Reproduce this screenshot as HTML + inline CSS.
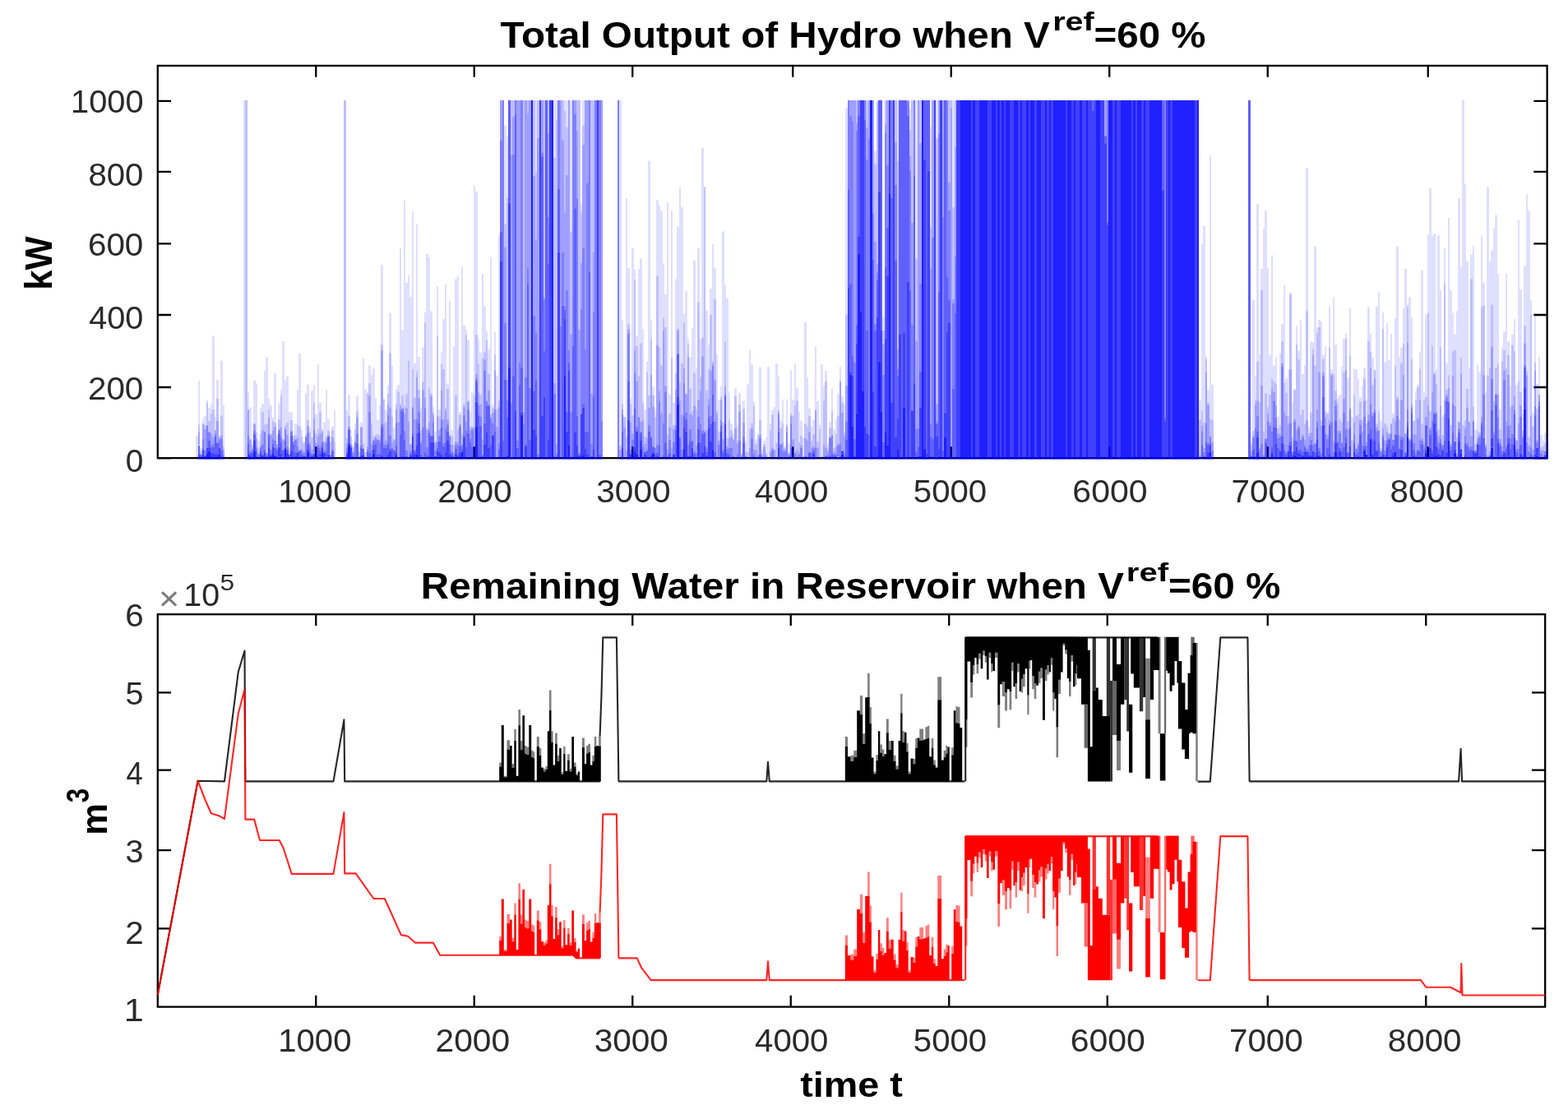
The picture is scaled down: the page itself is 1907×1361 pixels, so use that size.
<!DOCTYPE html>
<html><head><meta charset="utf-8"><title>Hydro</title>
<style>
html,body{margin:0;padding:0;background:#fff;overflow:hidden;}
svg{display:block;font-family:"Liberation Sans",sans-serif;}
.tk{fill:#2a2a2a;}
.tt{font-weight:bold;fill:#000;}
.ax{stroke:#000;stroke-width:2.3;fill:none;}
</style></head>
<body>
<svg width="1907" height="1361" viewBox="0 0 1907 1361">
<rect width="1907" height="1361" fill="#fff"/>
<rect class="ax" x="191.8" y="79.9" width="1689.80" height="477.20"/>
<path class="ax" d="M384.25 557.1v-13.75M384.25 79.9v13.75M576.75 557.1v-13.75M576.75 79.9v13.75M769.25 557.1v-13.75M769.25 79.9v13.75M964.25 557.1v-13.75M964.25 79.9v13.75M1156.75 557.1v-13.75M1156.75 79.9v13.75M1349.25 557.1v-13.75M1349.25 79.9v13.75M1541.75 557.1v-13.75M1541.75 79.9v13.75M1736.75 557.1v-13.75M1736.75 79.9v13.75M191.8 557.10h16.25M1881.6 557.10h-16.25M191.8 471.00h16.25M1881.6 471.00h-16.25M191.8 383.00h16.25M1881.6 383.00h-16.25M191.8 296.40h16.25M1881.6 296.40h-16.25M191.8 208.80h16.25M1881.6 208.80h-16.25M191.8 122.80h16.25M1881.6 122.80h-16.25"/>
<rect class="ax" x="191.8" y="747.2" width="1687.40" height="477.40"/>
<path class="ax" d="M384.25 1224.6v-13.75M384.25 747.2v13.75M576.75 1224.6v-13.75M576.75 747.2v13.75M769.25 1224.6v-13.75M769.25 747.2v13.75M961.75 1224.6v-13.75M961.75 747.2v13.75M1154.25 1224.6v-13.75M1154.25 747.2v13.75M1346.75 1224.6v-13.75M1346.75 747.2v13.75M1541.75 1224.6v-13.75M1541.75 747.2v13.75M1734.25 1224.6v-13.75M1734.25 747.2v13.75M191.8 1129.30h16.25M1879.2 1129.30h-16.25M191.8 1034.10h16.25M1879.2 1034.10h-16.25M191.8 936.60h16.25M1879.2 936.60h-16.25M191.8 842.30h16.25M1879.2 842.30h-16.25"/>
<g id="bars">
<path fill="#00f" fill-opacity="0.125" d="M238 529.9h3V558.4h-3zM241 463.0h2V516.4h-2zM243 544.8h3V548.6h-3zM246 508.7h2V514.9h-2zM248 505.7h3V517.1h-3zM251 485.9h2V490.0h-2zM253 495.8h3V512.2h-3zM256 491.6h2V503.3h-2zM258 408.5h3V497.9h-3zM261 506.9h2V522.7h-2zM263 461.9h3V485.1h-3zM266 529.4h2V531.3h-2zM268 438.8h3V505.3h-3zM271 493.1h2V543.1h-2zM296 122.1h2V558.4h-2zM301 477.3h2V498.0h-2zM303 495.5h3V533.4h-3zM306 539.8h2V542.0h-2zM308 462.7h3V514.6h-3zM311 466.3h2V525.9h-2zM313 535.5h3V545.5h-3zM316 495.9h2V527.4h-2zM318 491.1h3V501.3h-3zM321 450.9h2V516.6h-2zM323 434.5h3V515.6h-3zM326 484.7h2V497.7h-2zM328 492.4h3V527.6h-3zM331 508.1h2V512.1h-2zM333 453.7h3V513.9h-3zM336 529.8h2V539.9h-2zM338 490.4h3V510.0h-3zM341 474.2h2V480.8h-2zM343 415.0h3V534.1h-3zM346 463.1h2V517.0h-2zM348 457.4h3V513.8h-3zM351 501.3h2V545.6h-2zM353 501.6h3V511.1h-3zM356 528.3h2V530.4h-2zM358 515.0h3V529.2h-3zM361 474.1h2V517.0h-2zM363 430.1h3V518.2h-3zM366 522.5h2V531.2h-2zM368 537.6h3V538.6h-3zM371 479.1h2V529.2h-2zM373 467.5h3V511.3h-3zM376 520.1h2V525.7h-2zM378 475.2h3V531.7h-3zM381 469.0h2V490.6h-2zM383 503.7h3V527.5h-3zM386 443.2h2V521.8h-2zM388 489.7h3V501.7h-3zM391 522.2h2V522.7h-2zM393 513.7h3V537.0h-3zM396 473.9h2V530.9h-2zM398 509.8h3V523.8h-3zM401 530.2h2V537.7h-2zM403 518.6h3V522.9h-3zM406 498.8h2V536.9h-2zM421 499.6h2V533.0h-2zM423 480.0h3V505.8h-3zM426 522.9h2V531.3h-2zM428 540.4h3V543.9h-3zM431 515.2h2V523.1h-2zM433 481.2h3V500.2h-3zM436 542.1h2V549.1h-2zM438 514.0h3V519.4h-3zM441 435.7h2V539.8h-2zM443 473.5h3V550.1h-3zM446 477.2h2V478.6h-2zM448 444.6h3V466.1h-3zM451 455.8h2V514.8h-2zM453 448.3h3V530.4h-3zM456 484.1h2V529.3h-2zM458 510.6h3V527.9h-3zM461 492.4h2V529.7h-2zM463 322.1h3V419.1h-3zM466 484.4h2V486.5h-2zM468 498.5h3V513.6h-3zM471 468.8h2V479.3h-2zM473 380.7h3V429.5h-3zM476 445.1h2V506.7h-2zM478 519.9h3V533.7h-3zM481 473.6h2V491.3h-2zM483 468.3h3V476.6h-3zM486 302.2h2V491.1h-2zM488 401.3h3V480.8h-3zM491 243.6h2V494.5h-2zM493 344.0h3V479.2h-3zM496 334.7h2V438.8h-2zM498 360.9h3V539.4h-3zM501 257.0h2V449.1h-2zM503 441.9h3V483.8h-3zM506 272.7h2V451.6h-2zM508 434.0h3V473.7h-3zM511 495.2h2V523.7h-2zM513 422.5h3V464.5h-3zM516 379.9h2V392.1h-2zM518 308.7h3V520.4h-3zM521 313.0h2V471.5h-2zM523 378.5h3V478.4h-3zM526 494.3h2V501.4h-2zM528 524.7h3V536.6h-3zM531 348.5h2V409.5h-2zM533 498.0h3V506.6h-3zM536 428.6h2V443.1h-2zM538 388.2h3V449.0h-3zM541 344.7h2V495.9h-2zM543 466.2h3V473.1h-3zM546 365.9h2V528.3h-2zM548 522.7h3V530.6h-3zM551 420.9h2V541.3h-2zM553 339.5h3V480.4h-3zM556 335.6h2V522.3h-2zM558 501.2h3V504.5h-3zM561 324.3h2V527.9h-2zM563 395.6h3V491.5h-3zM566 400.9h2V407.2h-2zM568 414.1h3V487.5h-3zM571 501.1h2V519.5h-2zM573 477.4h3V518.8h-3zM576 225.4h2V481.7h-2zM578 232.8h3V407.0h-3zM581 412.6h2V442.5h-2zM583 428.5h3V480.1h-3zM586 332.9h2V435.8h-2zM588 372.6h3V428.3h-3zM591 403.1h2V413.3h-2zM593 424.7h3V455.1h-3zM596 313.0h2V504.0h-2zM598 492.4h3V496.3h-3zM601 403.7h2V431.3h-2zM603 456.5h3V497.4h-3zM606 286.1h2V486.8h-2zM613 152.7h3V272.7h-3zM616 165.3h2V241.0h-2zM651 122.1h2V210.2h-2zM673 122.1h3V191.9h-3zM676 122.1h2V146.0h-2zM686 122.1h2V134.6h-2zM688 122.1h3V154.6h-3zM693 122.1h3V281.7h-3zM706 247.7h2V258.4h-2zM708 122.1h3V152.5h-3zM753 122.1h3V542.0h-3zM756 388.8h2V491.1h-2zM758 506.5h3V507.5h-3zM761 241.0h2V531.0h-2zM763 326.0h3V394.6h-3zM766 484.9h2V491.8h-2zM768 301.7h3V505.0h-3zM771 327.9h2V339.7h-2zM773 407.9h3V420.9h-3zM776 327.0h2V457.6h-2zM778 314.5h3V417.6h-3zM781 399.9h2V489.7h-2zM783 498.5h3V530.7h-3zM786 440.0h2V452.4h-2zM788 195.4h3V481.0h-3zM791 390.0h2V412.8h-2zM793 470.7h3V480.8h-3zM796 498.1h2V507.2h-2zM798 243.5h3V335.5h-3zM801 249.7h2V422.8h-2zM803 256.6h3V444.2h-3zM806 320.2h2V386.7h-2zM808 358.3h3V398.1h-3zM811 245.9h2V528.0h-2zM813 479.8h3V503.3h-3zM816 256.2h2V435.2h-2zM818 489.9h3V517.0h-3zM821 339.6h2V454.0h-2zM823 275.3h3V400.0h-3zM826 227.5h2V464.9h-2zM828 252.3h3V442.0h-3zM831 381.6h2V392.9h-2zM833 353.8h3V478.2h-3zM836 411.9h2V419.3h-2zM838 434.5h3V472.8h-3zM841 398.7h2V500.1h-2zM843 316.9h3V453.4h-3zM846 447.1h2V497.5h-2zM848 302.0h3V367.6h-3zM851 412.8h2V458.5h-2zM853 179.8h3V410.5h-3zM858 377.8h3V475.0h-3zM861 419.4h2V448.9h-2zM863 351.2h3V382.9h-3zM866 296.5h2V439.6h-2zM868 326.2h3V364.3h-3zM871 430.5h2V499.6h-2zM873 486.9h3V524.5h-3zM876 470.0h2V482.9h-2zM878 281.3h3V514.0h-3zM881 346.5h2V415.7h-2zM883 362.5h3V532.5h-3zM886 476.5h2V510.4h-2zM888 515.3h3V523.4h-3zM891 526.8h2V533.6h-2zM893 472.8h3V481.7h-3zM896 517.3h2V535.7h-2zM898 477.4h3V491.9h-3zM901 549.6h2V551.7h-2zM903 487.5h3V497.5h-3zM906 536.5h2V549.2h-2zM908 467.6h3V550.0h-3zM911 425.8h2V521.4h-2zM913 443.4h3V514.7h-3zM916 488.4h2V493.4h-2zM918 534.6h3V540.6h-3zM921 527.4h2V530.2h-2zM923 446.6h3V511.0h-3zM926 547.3h2V551.6h-2zM928 536.3h3V540.4h-3zM931 531.8h2V551.8h-2zM933 446.2h3V558.4h-3zM936 515.1h2V523.5h-2zM938 498.7h3V504.4h-3zM941 494.9h2V546.6h-2zM943 441.9h3V538.4h-3zM946 457.6h2V498.4h-2zM948 511.6h3V521.1h-3zM951 485.7h2V514.5h-2zM953 542.3h3V544.5h-3zM956 485.4h2V516.2h-2zM958 539.7h3V550.4h-3zM961 450.1h2V502.9h-2zM963 486.0h3V505.6h-3zM966 441.9h2V492.9h-2zM968 471.5h3V487.3h-3zM971 500.6h2V537.8h-2zM973 511.8h3V530.1h-3zM976 532.4h2V554.9h-2zM978 392.0h3V515.7h-3zM981 459.2h2V518.4h-2zM983 496.8h3V506.0h-3zM986 518.4h2V536.2h-2zM988 510.5h3V528.3h-3zM991 421.5h2V498.6h-2zM993 487.9h3V537.4h-3zM996 516.4h2V521.7h-2zM998 443.2h3V555.6h-3zM1001 468.8h2V487.3h-2zM1003 451.0h3V463.9h-3zM1006 539.6h2V546.2h-2zM1008 513.3h3V521.0h-3zM1011 471.5h2V500.3h-2zM1013 522.5h3V545.1h-3zM1016 510.0h2V527.8h-2zM1018 479.2h3V505.8h-3zM1021 445.9h2V463.7h-2zM1023 482.3h3V489.6h-3zM1026 491.7h2V526.1h-2zM1028 130.8h3V382.4h-3zM1063 183.4h3V199.7h-3zM1066 122.1h2V124.6h-2zM1073 386.3h3V402.0h-3zM1091 122.1h2V196.2h-2zM1106 132.6h2V157.9h-2zM1113 122.1h3V314.8h-3zM1131 153.7h2V276.6h-2zM1138 122.1h3V168.2h-3zM1158 122.1h3V252.3h-3zM1458 487.3h3V510.7h-3zM1461 295.7h2V500.0h-2zM1463 274.8h3V513.9h-3zM1466 433.8h2V436.4h-2zM1468 474.4h3V490.0h-3zM1471 188.9h2V509.4h-2zM1473 467.5h3V510.4h-3zM1521 537.1h2V540.2h-2zM1523 364.7h3V524.1h-3zM1526 456.8h2V486.2h-2zM1528 247.9h3V439.7h-3zM1531 430.8h2V489.5h-2zM1533 327.1h3V352.7h-3zM1536 278.3h2V524.5h-2zM1538 256.2h3V478.4h-3zM1541 326.3h2V495.3h-2zM1543 431.8h3V479.9h-3zM1546 310.4h2V460.5h-2zM1548 445.1h3V463.9h-3zM1551 434.3h2V466.8h-2zM1553 506.6h3V521.1h-3zM1556 429.7h2V517.0h-2zM1558 393.8h3V415.4h-3zM1561 346.7h2V465.8h-2zM1563 460.4h3V477.4h-3zM1566 449.7h2V505.9h-2zM1568 356.0h3V358.2h-3zM1571 489.5h2V532.1h-2zM1573 473.0h3V474.5h-3zM1576 396.4h2V418.9h-2zM1578 426.6h3V436.9h-3zM1581 389.0h2V504.5h-2zM1583 455.0h3V498.2h-3zM1586 444.1h2V515.9h-2zM1588 204.6h3V378.2h-3zM1591 519.7h2V526.7h-2zM1593 415.4h3V502.0h-3zM1596 416.6h2V424.6h-2zM1598 300.0h3V444.7h-3zM1601 397.9h2V404.8h-2zM1603 388.8h3V398.0h-3zM1606 390.9h2V511.5h-2zM1608 431.3h3V437.0h-3zM1611 421.3h2V500.8h-2zM1613 501.3h3V503.6h-3zM1616 372.6h2V422.3h-2zM1618 449.2h3V454.0h-3zM1621 361.7h2V454.8h-2zM1623 419.3h3V475.0h-3zM1626 483.9h2V490.2h-2zM1628 480.2h3V510.2h-3zM1631 446.0h2V513.4h-2zM1633 412.2h3V452.8h-3zM1636 404.7h2V411.4h-2zM1638 459.5h3V512.3h-3zM1641 374.4h2V432.4h-2zM1643 507.2h3V535.5h-3zM1646 448.6h2V480.6h-2zM1648 449.6h3V506.1h-3zM1651 461.2h2V504.0h-2zM1653 482.9h3V488.7h-3zM1656 469.2h2V511.6h-2zM1658 448.1h3V460.2h-3zM1661 486.1h2V515.1h-2zM1663 373.8h3V414.8h-3zM1666 405.7h2V428.1h-2zM1668 434.9h3V468.2h-3zM1671 449.9h2V450.4h-2zM1673 373.1h3V515.4h-3zM1676 354.9h2V500.2h-2zM1678 511.4h3V544.9h-3zM1681 380.2h2V400.0h-2zM1683 440.6h3V515.3h-3zM1686 393.1h2V518.8h-2zM1688 438.3h3V527.1h-3zM1691 406.0h2V514.8h-2zM1693 502.8h3V508.3h-3zM1696 387.0h2V445.2h-2zM1698 299.5h3V482.6h-3zM1701 434.3h2V510.6h-2zM1703 422.4h3V441.4h-3zM1706 374.9h2V418.2h-2zM1708 326.9h3V526.5h-3zM1711 370.5h2V373.3h-2zM1713 362.1h3V533.2h-3zM1716 385.9h2V436.8h-2zM1718 511.2h3V511.8h-3zM1721 475.6h2V485.9h-2zM1723 467.8h3V470.9h-3zM1726 427.9h2V448.6h-2zM1728 329.1h3V515.7h-3zM1731 477.3h2V486.5h-2zM1733 382.4h3V482.8h-3zM1736 285.8h2V380.5h-2zM1738 229.3h3V500.2h-3zM1741 287.0h2V420.8h-2zM1743 283.9h3V453.3h-3zM1746 449.3h2V466.8h-2zM1748 286.5h3V522.4h-3zM1751 352.8h2V422.6h-2zM1753 507.1h3V529.5h-3zM1756 301.7h2V344.4h-2zM1758 441.8h3V474.1h-3zM1761 264.9h2V455.9h-2zM1763 353.0h3V517.0h-3zM1766 380.5h2V427.4h-2zM1768 406.2h3V425.9h-3zM1771 378.3h2V532.0h-2zM1773 241.0h3V512.7h-3zM1776 324.9h2V435.1h-2zM1778 122.1h3V517.3h-3zM1781 224.1h2V511.2h-2zM1783 317.7h3V473.0h-3zM1786 447.2h2V512.7h-2zM1788 309.5h3V339.2h-3zM1791 298.6h2V494.3h-2zM1793 522.3h3V539.8h-3zM1796 443.5h2V523.3h-2zM1798 452.5h3V525.7h-3zM1801 286.4h2V373.1h-2zM1803 343.5h3V371.8h-3zM1806 476.1h2V539.7h-2zM1808 227.5h3V456.8h-3zM1811 318.0h2V447.2h-2zM1813 304.4h3V370.4h-3zM1816 278.0h2V488.0h-2zM1818 261.4h3V447.2h-3zM1821 333.0h2V442.8h-2zM1823 497.6h3V522.2h-3zM1826 422.5h2V439.5h-2zM1828 403.6h3V426.0h-3zM1831 332.7h2V448.1h-2zM1833 415.5h3V431.9h-3zM1836 468.9h2V494.9h-2zM1838 406.7h3V419.7h-3zM1841 388.0h2V427.4h-2zM1843 468.1h3V535.2h-3zM1846 267.9h2V463.9h-2zM1848 352.2h3V476.9h-3zM1851 503.0h2V523.6h-2zM1853 323.3h3V396.1h-3zM1856 236.2h2V451.4h-2zM1858 256.6h3V532.1h-3zM1861 364.9h2V382.8h-2zM1863 502.2h3V518.4h-3zM1866 384.7h2V440.5h-2zM1868 466.7h3V497.2h-3zM1871 433.7h2V479.8h-2zM1873 529.3h3V543.7h-3zM1876 536.1h2V542.6h-2zM1878 526.6h3V539.2h-3zM1881 482.9h2V528.8h-2z"/>
<path fill="#00f" fill-opacity="0.25" d="M241 516.4h2V525.6h-2zM243 548.6h3V551.8h-3zM246 514.9h2V515.7h-2zM248 517.1h3V521.9h-3zM251 490.0h2V516.8h-2zM253 512.2h3V525.2h-3zM256 503.3h2V527.5h-2zM258 497.9h3V531.6h-3zM261 522.7h2V523.9h-2zM263 485.1h3V512.1h-3zM266 531.3h2V532.3h-2zM268 505.3h3V529.2h-3zM271 543.1h2V547.1h-2zM298 122.1h3V558.4h-3zM303 533.4h3V535.2h-3zM306 542.0h2V545.8h-2zM308 514.6h3V515.8h-3zM311 525.9h2V533.5h-2zM313 545.5h3V551.5h-3zM316 527.4h2V542.1h-2zM318 501.3h3V523.4h-3zM321 516.6h2V524.8h-2zM323 515.6h3V550.5h-3zM326 497.7h2V507.5h-2zM328 527.6h3V528.7h-3zM331 512.1h2V523.4h-2zM333 513.9h3V518.9h-3zM336 539.9h2V540.7h-2zM338 510.0h3V521.8h-3zM341 480.8h2V519.5h-2zM343 534.1h3V535.3h-3zM346 517.0h2V520.9h-2zM348 513.8h3V528.7h-3zM351 545.6h2V552.6h-2zM353 511.1h3V523.6h-3zM356 530.4h2V536.7h-2zM358 529.2h3V533.9h-3zM361 517.0h2V532.3h-2zM363 518.2h3V547.1h-3zM366 531.2h2V546.1h-2zM368 538.6h3V549.0h-3zM371 529.2h2V530.7h-2zM373 511.3h3V517.9h-3zM376 525.7h2V537.5h-2zM378 531.7h3V546.4h-3zM381 490.6h2V508.4h-2zM383 527.5h3V539.1h-3zM386 521.8h2V530.5h-2zM388 501.7h3V527.2h-3zM391 522.7h2V525.5h-2zM393 537.0h3V537.8h-3zM396 530.9h2V533.9h-2zM398 523.8h3V528.4h-3zM401 537.7h2V553.1h-2zM403 522.9h3V531.7h-3zM406 536.9h2V558.4h-2zM418 122.1h3V558.4h-3zM421 533.0h2V539.2h-2zM423 505.8h3V518.6h-3zM426 531.3h2V539.9h-2zM428 543.9h3V548.6h-3zM431 523.1h2V536.9h-2zM433 500.2h3V507.6h-3zM436 549.1h2V554.8h-2zM441 539.8h2V545.1h-2zM443 550.1h3V558.4h-3zM446 478.6h2V542.9h-2zM448 466.1h3V481.1h-3zM451 514.8h2V540.1h-2zM453 530.4h3V535.4h-3zM456 529.3h2V532.1h-2zM458 527.9h3V534.2h-3zM461 529.7h2V535.0h-2zM463 419.1h3V426.1h-3zM466 486.5h2V516.4h-2zM468 513.6h3V535.4h-3zM471 479.3h2V491.8h-2zM473 429.5h3V495.5h-3zM476 506.7h2V538.6h-2zM478 533.7h3V535.4h-3zM481 491.3h2V497.8h-2zM483 476.6h3V513.6h-3zM486 491.1h2V493.7h-2zM488 480.8h3V496.5h-3zM491 494.5h2V503.2h-2zM493 479.2h3V496.2h-3zM496 438.8h2V512.6h-2zM498 539.4h3V541.1h-3zM501 449.1h2V494.3h-2zM503 483.8h3V509.9h-3zM506 451.6h2V458.4h-2zM508 473.7h3V484.3h-3zM511 523.7h2V536.9h-2zM513 464.5h3V474.3h-3zM516 392.1h2V483.8h-2zM518 520.4h3V523.1h-3zM521 471.5h2V513.2h-2zM523 478.4h3V481.9h-3zM526 501.4h2V505.0h-2zM528 536.6h3V539.0h-3zM531 409.5h2V506.2h-2zM533 506.6h3V522.5h-3zM536 443.1h2V474.8h-2zM538 449.0h3V510.2h-3zM541 495.9h2V499.5h-2zM543 473.1h3V509.9h-3zM546 528.3h2V529.7h-2zM548 530.6h3V540.9h-3zM551 541.3h2V550.0h-2zM553 480.4h3V537.1h-3zM556 522.3h2V538.0h-2zM558 504.5h3V515.8h-3zM561 527.9h2V540.4h-2zM563 491.5h3V495.3h-3zM566 407.2h2V513.1h-2zM568 487.5h3V488.5h-3zM571 519.5h2V522.8h-2zM573 518.8h3V520.0h-3zM576 481.7h2V521.1h-2zM578 407.0h3V455.0h-3zM581 442.5h2V477.1h-2zM583 480.1h3V491.9h-3zM586 435.8h2V535.0h-2zM588 428.3h3V437.3h-3zM591 413.3h2V487.0h-2zM593 455.1h3V474.5h-3zM596 504.0h2V507.5h-2zM598 496.3h3V502.0h-3zM601 431.3h2V450.3h-2zM603 497.4h3V519.0h-3zM606 486.8h2V495.1h-2zM613 272.7h3V300.6h-3zM616 241.0h2V462.0h-2zM621 122.1h2V188.2h-2zM623 122.1h3V142.1h-3zM636 122.1h2V501.2h-2zM641 122.1h2V137.7h-2zM648 122.1h3V214.3h-3zM651 210.2h2V291.3h-2zM653 122.1h3V167.9h-3zM661 122.1h2V361.9h-2zM666 122.1h2V161.6h-2zM673 191.9h3V465.9h-3zM676 146.0h2V539.8h-2zM683 122.3h3V170.5h-3zM686 134.6h2V258.8h-2zM688 154.6h3V213.0h-3zM693 281.7h3V406.2h-3zM701 122.1h2V158.7h-2zM703 122.1h3V400.5h-3zM706 258.4h2V319.8h-2zM708 152.5h3V176.3h-3zM718 122.1h3V478.5h-3zM721 122.1h2V306.4h-2zM753 542.0h3V547.0h-3zM756 491.1h2V497.6h-2zM758 507.5h3V519.8h-3zM761 531.0h2V547.5h-2zM763 394.6h3V400.4h-3zM766 491.8h2V514.0h-2zM768 505.0h3V527.2h-3zM771 339.7h2V426.4h-2zM773 420.9h3V464.1h-3zM776 457.6h2V507.1h-2zM778 417.6h3V513.0h-3zM781 489.7h2V510.9h-2zM783 530.7h3V539.5h-3zM786 452.4h2V533.0h-2zM788 481.0h3V496.1h-3zM791 412.8h2V455.5h-2zM793 480.8h3V494.9h-3zM796 507.2h2V544.2h-2zM798 335.5h3V419.6h-3zM801 422.8h2V475.3h-2zM803 444.2h3V502.2h-3zM806 386.7h2V401.7h-2zM808 398.1h3V469.3h-3zM811 528.0h2V546.6h-2zM813 503.3h3V519.9h-3zM816 435.2h2V544.3h-2zM818 517.0h3V521.4h-3zM821 454.0h2V474.0h-2zM823 400.0h3V401.6h-3zM826 464.9h2V487.6h-2zM828 442.0h3V504.5h-3zM831 392.9h2V448.0h-2zM833 478.2h3V479.6h-3zM836 419.3h2V433.6h-2zM838 472.8h3V503.5h-3zM841 500.1h2V505.0h-2zM843 453.4h3V493.9h-3zM846 497.5h2V541.8h-2zM848 367.6h3V485.9h-3zM851 458.5h2V475.4h-2zM853 410.5h3V433.7h-3zM856 227.5h2V522.7h-2zM858 475.0h3V523.7h-3zM861 448.9h2V485.2h-2zM863 382.9h3V450.5h-3zM866 439.6h2V442.2h-2zM868 364.3h3V462.3h-3zM871 499.6h2V503.8h-2zM873 524.5h3V535.5h-3zM876 482.9h2V486.6h-2zM878 514.0h3V533.9h-3zM881 415.7h2V470.1h-2zM883 532.5h3V543.1h-3zM886 510.4h2V533.0h-2zM888 523.4h3V530.5h-3zM891 533.6h2V535.2h-2zM893 481.7h3V520.9h-3zM896 535.7h2V539.4h-2zM898 491.9h3V501.1h-3zM901 551.7h2V554.3h-2zM903 497.5h3V514.0h-3zM906 549.2h2V554.3h-2zM908 550.0h3V558.4h-3zM911 521.4h2V545.1h-2zM913 514.7h3V521.3h-3zM916 493.4h2V546.9h-2zM918 540.6h3V547.3h-3zM921 530.2h2V553.4h-2zM923 511.0h3V528.4h-3zM926 551.6h2V553.8h-2zM928 540.4h3V543.5h-3zM931 551.8h2V553.2h-2zM936 523.5h2V549.7h-2zM938 504.4h3V544.3h-3zM943 538.4h3V558.4h-3zM946 498.4h2V500.4h-2zM948 521.1h3V540.1h-3zM951 514.5h2V537.9h-2zM953 544.5h3V546.5h-3zM956 516.2h2V519.2h-2zM958 550.4h3V551.6h-3zM961 502.9h2V505.9h-2zM963 505.6h3V534.2h-3zM966 492.9h2V549.7h-2zM968 487.3h3V548.1h-3zM971 537.8h2V550.8h-2zM973 530.1h3V542.0h-3zM976 554.9h2V558.4h-2zM978 515.7h3V532.9h-3zM981 518.4h2V535.4h-2zM983 506.0h3V525.3h-3zM986 536.2h2V545.0h-2zM988 528.3h3V543.1h-3zM993 537.4h3V544.5h-3zM996 521.7h2V558.4h-2zM998 555.6h3V558.4h-3zM1001 487.3h2V540.5h-2zM1003 463.9h3V544.3h-3zM1006 546.2h2V548.9h-2zM1008 521.0h3V532.0h-3zM1011 500.3h2V529.0h-2zM1013 545.1h3V549.2h-3zM1016 527.8h2V542.8h-2zM1018 505.8h3V539.9h-3zM1023 489.6h3V501.9h-3zM1026 526.1h2V530.6h-2zM1028 382.4h3V469.2h-3zM1041 122.1h2V149.5h-2zM1053 122.1h3V155.2h-3zM1063 199.7h3V293.9h-3zM1066 124.6h2V321.1h-2zM1073 402.0h3V418.5h-3zM1076 122.1h2V151.3h-2zM1088 122.1h3V173.1h-3zM1091 196.2h2V425.2h-2zM1106 157.9h2V189.8h-2zM1108 122.1h3V270.4h-3zM1113 314.8h3V414.5h-3zM1118 122.1h3V173.8h-3zM1131 276.6h2V327.1h-2zM1138 168.2h3V491.1h-3zM1153 122.1h3V221.4h-3zM1156 122.1h2V131.1h-2zM1158 252.3h3V364.1h-3zM1161 122.1h2V178.9h-2zM1458 510.7h3V553.5h-3zM1461 500.0h2V518.1h-2zM1463 513.9h3V544.5h-3zM1466 436.4h2V452.4h-2zM1468 490.0h3V492.4h-3zM1471 509.4h2V530.4h-2zM1473 510.4h3V538.1h-3zM1521 540.2h2V549.0h-2zM1523 524.1h3V530.0h-3zM1526 486.2h2V492.2h-2zM1528 439.7h3V487.5h-3zM1531 489.5h2V545.1h-2zM1533 352.7h3V468.9h-3zM1536 524.5h2V552.9h-2zM1538 478.4h3V533.4h-3zM1541 495.3h2V503.1h-2zM1543 479.9h3V513.9h-3zM1546 460.5h2V472.6h-2zM1548 463.9h3V477.0h-3zM1551 466.8h2V492.8h-2zM1553 521.1h3V527.2h-3zM1556 517.0h2V528.2h-2zM1558 415.4h3V441.5h-3zM1561 465.8h2V500.3h-2zM1563 477.4h3V506.2h-3zM1566 505.9h2V516.3h-2zM1568 358.2h3V448.9h-3zM1571 532.1h2V549.0h-2zM1573 474.5h3V509.8h-3zM1576 418.9h2V523.0h-2zM1578 436.9h3V517.4h-3zM1581 504.5h2V534.6h-2zM1583 498.2h3V528.8h-3zM1586 515.9h2V534.4h-2zM1588 378.2h3V511.4h-3zM1591 526.7h2V530.8h-2zM1593 502.0h3V526.2h-3zM1596 424.6h2V431.9h-2zM1598 444.7h3V539.1h-3zM1601 404.8h2V498.0h-2zM1603 398.0h3V452.8h-3zM1606 511.5h2V517.9h-2zM1608 437.0h3V453.1h-3zM1611 500.8h2V507.4h-2zM1613 503.6h3V528.7h-3zM1616 422.3h2V510.8h-2zM1618 454.0h3V456.8h-3zM1621 454.8h2V536.4h-2zM1623 475.0h3V486.8h-3zM1626 490.2h2V523.7h-2zM1628 510.2h3V523.8h-3zM1631 513.4h2V538.5h-2zM1633 452.8h3V484.4h-3zM1636 411.4h2V449.8h-2zM1638 512.3h3V522.2h-3zM1641 432.4h2V496.1h-2zM1643 535.5h3V558.4h-3zM1646 480.6h2V513.6h-2zM1648 506.1h3V545.2h-3zM1651 504.0h2V539.0h-2zM1653 488.7h3V510.2h-3zM1656 511.6h2V525.1h-2zM1658 460.2h3V487.8h-3zM1661 515.1h2V537.6h-2zM1663 414.8h3V504.1h-3zM1666 428.1h2V447.0h-2zM1668 468.2h3V501.8h-3zM1671 450.4h2V459.7h-2zM1673 515.4h3V520.1h-3zM1676 500.2h2V522.9h-2zM1678 544.9h3V548.2h-3zM1681 400.0h2V521.2h-2zM1683 515.3h3V535.9h-3zM1686 518.8h2V525.1h-2zM1688 527.1h3V528.3h-3zM1691 514.8h2V515.4h-2zM1693 508.3h3V534.9h-3zM1696 445.2h2V512.3h-2zM1698 482.6h3V486.3h-3zM1701 510.6h2V528.8h-2zM1703 441.4h3V486.1h-3zM1706 418.2h2V455.9h-2zM1708 526.5h3V528.1h-3zM1711 373.3h2V416.5h-2zM1713 533.2h3V534.2h-3zM1716 436.8h2V491.9h-2zM1718 511.8h3V528.6h-3zM1721 485.9h2V528.5h-2zM1723 470.9h3V508.7h-3zM1726 448.6h2V485.9h-2zM1728 515.7h3V532.7h-3zM1731 486.5h2V539.4h-2zM1733 482.8h3V506.7h-3zM1736 380.5h2V492.8h-2zM1738 500.2h3V520.1h-3zM1741 420.8h2V476.5h-2zM1743 453.3h3V456.0h-3zM1746 466.8h2V500.8h-2zM1748 522.4h3V530.5h-3zM1751 422.6h2V493.5h-2zM1753 529.5h3V540.8h-3zM1756 344.4h2V486.6h-2zM1758 474.1h3V480.1h-3zM1761 455.9h2V471.4h-2zM1763 517.0h3V539.4h-3zM1766 427.4h2V456.9h-2zM1768 425.9h3V493.7h-3zM1771 532.0h2V552.0h-2zM1773 512.7h3V513.5h-3zM1776 435.1h2V454.7h-2zM1778 517.3h3V558.4h-3zM1781 511.2h2V520.0h-2zM1783 473.0h3V495.6h-3zM1788 339.2h3V530.0h-3zM1791 494.3h2V511.3h-2zM1793 539.8h3V547.4h-3zM1796 523.3h2V533.1h-2zM1798 525.7h3V529.0h-3zM1801 373.1h2V506.8h-2zM1803 371.8h3V456.2h-3zM1806 539.7h2V542.0h-2zM1808 456.8h3V554.2h-3zM1811 447.2h2V549.1h-2zM1813 370.4h3V421.8h-3zM1816 488.0h2V524.5h-2zM1818 447.2h3V479.0h-3zM1821 442.8h2V480.0h-2zM1823 522.2h3V534.1h-3zM1826 439.5h2V542.9h-2zM1828 426.0h3V450.4h-3zM1831 448.1h2V512.8h-2zM1833 431.9h3V456.1h-3zM1836 494.9h2V516.8h-2zM1838 419.7h3V492.6h-3zM1841 427.4h2V481.5h-2zM1846 463.9h2V514.5h-2zM1848 476.9h3V493.1h-3zM1851 523.6h2V529.8h-2zM1853 396.1h3V417.4h-3zM1856 451.4h2V456.8h-2zM1858 532.1h3V541.5h-3zM1861 382.8h2V505.9h-2zM1863 518.4h3V546.6h-3zM1866 440.5h2V450.3h-2zM1868 497.2h3V535.1h-3zM1871 479.8h2V480.4h-2zM1873 543.7h3V547.5h-3zM1876 542.6h2V548.1h-2zM1878 539.2h3V549.0h-3zM1881 528.8h2V533.8h-2z"/>
<path fill="#00f" fill-opacity="0.375" d="M241 525.6h2V541.6h-2zM246 515.7h2V533.9h-2zM248 521.9h3V548.0h-3zM251 516.8h2V517.8h-2zM253 525.2h3V525.6h-3zM256 527.5h2V541.5h-2zM258 531.6h3V540.1h-3zM261 523.9h2V527.9h-2zM263 512.1h3V537.8h-3zM266 532.3h2V535.3h-2zM268 529.2h3V533.7h-3zM271 547.1h2V553.5h-2zM301 498.3h2V529.4h-2zM303 535.2h3V549.1h-3zM306 545.8h2V546.5h-2zM308 515.8h3V524.1h-3zM311 533.5h2V543.8h-2zM313 551.5h3V552.3h-3zM316 542.1h2V543.5h-2zM318 523.4h3V540.3h-3zM321 524.8h2V526.0h-2zM323 550.5h3V551.6h-3zM326 507.5h2V527.3h-2zM328 528.7h3V546.4h-3zM331 523.4h2V533.4h-2zM333 518.9h3V536.1h-3zM336 540.7h2V545.4h-2zM338 521.8h3V523.3h-3zM341 519.5h2V531.2h-2zM343 535.3h3V546.6h-3zM346 520.9h2V522.4h-2zM348 528.7h3V543.2h-3zM353 523.6h3V524.9h-3zM358 533.9h3V534.5h-3zM361 532.3h2V542.4h-2zM363 547.1h3V547.6h-3zM366 546.1h2V548.1h-2zM368 549.0h3V550.7h-3zM371 530.7h2V531.9h-2zM373 517.9h3V527.0h-3zM376 537.5h2V541.8h-2zM378 546.4h3V551.3h-3zM381 508.4h2V523.5h-2zM383 539.1h3V542.5h-3zM386 530.5h2V540.4h-2zM388 527.2h3V543.5h-3zM391 525.5h2V536.9h-2zM393 537.8h3V547.3h-3zM396 533.9h2V538.9h-2zM398 528.4h3V530.5h-3zM401 553.1h2V553.6h-2zM403 531.7h3V547.0h-3zM421 539.2h2V545.2h-2zM423 518.6h3V521.6h-3zM426 539.9h2V540.6h-2zM428 548.6h3V550.7h-3zM433 507.6h3V527.6h-3zM436 554.8h2V558.4h-2zM438 519.6h3V541.7h-3zM441 545.1h2V545.8h-2zM446 542.9h2V546.4h-2zM448 481.1h3V501.3h-3zM451 540.1h2V548.0h-2zM461 535.0h2V538.0h-2zM463 426.1h3V515.2h-3zM466 516.4h2V540.9h-2zM468 535.4h3V540.4h-3zM471 491.8h2V504.7h-2zM473 495.5h3V529.2h-3zM476 538.6h2V544.8h-2zM478 535.4h3V547.3h-3zM481 497.8h2V514.3h-2zM483 513.6h3V555.4h-3zM486 493.7h2V499.1h-2zM491 503.2h2V524.0h-2zM493 496.2h3V548.0h-3zM496 512.6h2V558.4h-2zM498 541.1h3V548.6h-3zM501 494.3h2V496.5h-2zM503 509.9h3V547.1h-3zM506 458.4h2V510.1h-2zM508 484.3h3V500.5h-3zM511 536.9h2V539.6h-2zM513 474.3h3V519.6h-3zM516 483.8h2V497.1h-2zM518 523.1h3V544.0h-3zM521 513.2h2V523.8h-2zM523 481.9h3V529.8h-3zM526 505.0h2V512.8h-2zM528 539.0h3V547.4h-3zM531 506.2h2V537.6h-2zM533 522.5h3V530.3h-3zM536 474.8h2V510.3h-2zM538 510.2h3V538.7h-3zM541 499.5h2V520.5h-2zM543 509.9h3V516.3h-3zM546 529.7h2V530.7h-2zM548 540.9h3V549.1h-3zM551 550.0h2V553.9h-2zM553 537.1h3V540.7h-3zM556 538.0h2V541.5h-2zM558 515.8h3V519.0h-3zM561 540.4h2V540.9h-2zM563 495.3h3V504.7h-3zM566 513.1h2V523.2h-2zM568 488.5h3V498.1h-3zM571 522.8h2V533.3h-2zM573 520.0h3V522.7h-3zM576 521.1h2V544.6h-2zM578 455.0h3V461.1h-3zM581 477.1h2V493.0h-2zM583 491.9h3V507.1h-3zM586 535.0h2V552.5h-2zM588 437.3h3V451.0h-3zM591 487.0h2V488.3h-2zM593 474.5h3V492.3h-3zM596 507.5h2V509.3h-2zM598 502.0h3V514.5h-3zM601 450.3h2V497.7h-2zM603 519.0h3V558.4h-3zM606 495.1h2V539.0h-2zM608 122.1h3V170.6h-3zM613 300.6h3V393.1h-3zM616 462.0h2V486.7h-2zM621 188.2h2V489.5h-2zM623 142.1h3V187.7h-3zM628 122.1h3V535.5h-3zM631 122.1h2V440.5h-2zM636 501.2h2V515.3h-2zM638 122.1h3V459.1h-3zM641 137.7h2V325.8h-2zM643 122.1h3V472.0h-3zM648 214.3h3V384.1h-3zM651 291.3h2V405.1h-2zM653 167.9h3V552.3h-3zM658 122.1h3V185.4h-3zM661 361.9h2V363.8h-2zM666 161.6h2V263.4h-2zM673 465.9h3V478.8h-3zM676 539.8h2V552.1h-2zM681 122.1h2V396.4h-2zM683 170.5h3V306.7h-3zM686 258.8h2V372.5h-2zM688 213.0h3V352.6h-3zM691 122.1h2V425.6h-2zM693 406.2h3V501.1h-3zM698 122.1h3V138.5h-3zM701 158.7h2V241.2h-2zM703 400.5h3V551.1h-3zM706 319.8h2V376.0h-2zM708 176.3h3V301.9h-3zM711 122.1h2V425.0h-2zM713 122.1h3V222.4h-3zM718 478.5h3V539.5h-3zM721 306.4h2V379.9h-2zM731 122.1h2V512.2h-2zM753 547.0h3V558.4h-3zM756 497.6h2V503.9h-2zM758 519.8h3V558.4h-3zM761 547.5h2V555.9h-2zM763 400.4h3V406.1h-3zM766 514.0h2V546.4h-2zM768 527.2h3V535.0h-3zM771 426.4h2V453.2h-2zM773 464.1h3V518.4h-3zM778 513.0h3V524.7h-3zM781 510.9h2V543.9h-2zM783 539.5h3V548.5h-3zM786 533.0h2V546.2h-2zM788 496.1h3V516.8h-3zM791 455.5h2V530.8h-2zM793 494.9h3V542.5h-3zM796 544.2h2V545.1h-2zM798 419.6h3V540.6h-3zM801 475.3h2V488.3h-2zM803 502.2h3V558.4h-3zM806 401.7h2V514.6h-2zM808 469.3h3V476.6h-3zM811 546.6h2V553.6h-2zM813 519.9h3V534.9h-3zM816 544.3h2V558.4h-2zM818 521.4h3V537.3h-3zM821 474.0h2V517.2h-2zM823 401.6h3V429.7h-3zM826 487.6h2V531.8h-2zM828 504.5h3V547.1h-3zM831 448.0h2V465.9h-2zM833 479.6h3V501.3h-3zM836 433.6h2V541.1h-2zM838 503.5h3V521.8h-3zM841 505.0h2V535.6h-2zM843 493.9h3V548.7h-3zM846 541.8h2V550.7h-2zM848 485.9h3V506.9h-3zM851 475.4h2V515.9h-2zM853 433.7h3V523.2h-3zM856 522.7h2V525.4h-2zM858 523.7h3V543.7h-3zM861 485.2h2V492.8h-2zM863 450.5h3V505.3h-3zM866 442.2h2V445.8h-2zM868 462.3h3V512.7h-3zM871 503.8h2V558.4h-2zM873 535.5h3V540.5h-3zM876 486.6h2V511.3h-2zM878 533.9h3V546.5h-3zM881 470.1h2V479.9h-2zM883 543.1h3V545.8h-3zM886 533.0h2V544.8h-2zM888 530.5h3V544.4h-3zM891 535.2h2V554.3h-2zM893 520.9h3V558.4h-3zM896 539.4h2V552.1h-2zM898 501.1h3V535.4h-3zM901 554.3h2V558.4h-2zM903 514.0h3V530.8h-3zM911 545.1h2V558.4h-2zM913 521.3h3V533.2h-3zM916 546.9h2V552.1h-2zM918 547.3h3V558.4h-3zM921 553.4h2V555.8h-2zM923 528.4h3V532.8h-3zM926 553.8h2V555.5h-2zM928 543.5h3V555.2h-3zM931 553.2h2V558.4h-2zM936 549.7h2V558.4h-2zM938 544.3h3V547.4h-3zM941 546.9h2V558.4h-2zM946 500.4h2V503.9h-2zM948 540.1h3V541.0h-3zM951 537.9h2V549.1h-2zM953 546.5h3V548.7h-3zM956 519.2h2V525.6h-2zM958 551.6h3V553.6h-3zM961 505.9h2V514.9h-2zM963 534.2h3V544.5h-3zM966 549.7h2V551.7h-2zM968 548.1h3V558.4h-3zM971 550.8h2V552.9h-2zM973 542.0h3V544.7h-3zM978 532.9h3V554.5h-3zM981 535.4h2V555.5h-2zM983 525.3h3V549.5h-3zM986 545.0h2V549.4h-2zM988 543.1h3V545.3h-3zM991 498.7h2V544.5h-2zM993 544.5h3V558.4h-3zM1001 540.5h2V558.4h-2zM1003 544.3h3V553.4h-3zM1006 548.9h2V553.2h-2zM1008 532.0h3V532.6h-3zM1013 549.2h3V552.0h-3zM1016 542.8h2V552.0h-2zM1018 539.9h3V541.5h-3zM1021 463.8h2V539.7h-2zM1023 501.9h3V547.1h-3zM1026 530.6h2V551.0h-2zM1028 469.2h3V512.6h-3zM1033 122.1h3V140.6h-3zM1036 122.1h2V147.5h-2zM1038 122.1h3V441.0h-3zM1041 149.5h2V158.5h-2zM1053 155.2h3V193.7h-3zM1056 122.1h2V168.4h-2zM1061 122.1h2V259.4h-2zM1063 293.9h3V393.4h-3zM1066 321.1h2V331.5h-2zM1073 418.5h3V455.7h-3zM1076 151.3h2V161.5h-2zM1078 122.1h3V200.9h-3zM1088 173.1h3V225.0h-3zM1091 425.2h2V448.5h-2zM1103 122.1h3V123.6h-3zM1106 189.8h2V207.3h-2zM1108 270.4h3V394.9h-3zM1113 414.5h3V522.0h-3zM1116 122.1h2V521.1h-2zM1118 173.8h3V345.0h-3zM1131 327.1h2V515.5h-2zM1133 122.1h3V288.6h-3zM1138 491.1h3V513.0h-3zM1141 122.1h2V162.7h-2zM1146 122.1h2V263.8h-2zM1153 221.4h3V255.7h-3zM1156 131.1h2V551.6h-2zM1158 364.1h3V368.7h-3zM1161 178.9h2V311.8h-2zM1343 122.1h3V165.5h-3zM1458 553.5h3V558.4h-3zM1461 518.1h2V525.0h-2zM1463 544.5h3V550.0h-3zM1466 452.4h2V514.4h-2zM1468 492.4h3V538.3h-3zM1471 530.4h2V531.2h-2zM1473 538.1h3V547.5h-3zM1521 549.0h2V553.4h-2zM1523 530.0h3V533.0h-3zM1526 492.2h2V520.2h-2zM1528 487.5h3V505.7h-3zM1531 545.1h2V547.5h-2zM1533 468.9h3V540.1h-3zM1536 552.9h2V554.5h-2zM1541 503.1h2V511.8h-2zM1543 513.9h3V518.0h-3zM1546 472.6h2V524.9h-2zM1548 477.0h3V487.5h-3zM1551 492.8h2V507.5h-2zM1553 527.2h3V532.4h-3zM1556 528.2h2V530.7h-2zM1558 441.5h3V446.1h-3zM1561 500.3h2V540.6h-2zM1563 506.2h3V548.7h-3zM1566 516.3h2V540.8h-2zM1568 448.9h3V514.2h-3zM1571 549.0h2V549.9h-2zM1573 509.8h3V512.7h-3zM1576 523.0h2V535.2h-2zM1578 517.4h3V520.5h-3zM1581 534.6h2V535.3h-2zM1583 528.8h3V531.6h-3zM1586 534.4h2V541.6h-2zM1588 511.4h3V545.6h-3zM1591 530.8h2V542.1h-2zM1593 526.2h3V534.6h-3zM1596 431.9h2V540.5h-2zM1598 539.1h3V539.6h-3zM1601 498.0h2V512.6h-2zM1603 452.8h3V544.6h-3zM1606 517.9h2V551.6h-2zM1608 453.1h3V457.7h-3zM1611 507.4h2V527.2h-2zM1613 528.7h3V534.0h-3zM1616 510.8h2V516.1h-2zM1618 456.8h3V513.2h-3zM1621 536.4h2V549.8h-2zM1623 486.8h3V493.9h-3zM1626 523.7h2V537.0h-2zM1628 523.8h3V526.6h-3zM1633 484.4h3V501.7h-3zM1636 449.8h2V521.3h-2zM1638 522.2h3V549.7h-3zM1641 496.1h2V498.5h-2zM1646 513.6h2V528.3h-2zM1651 539.0h2V542.0h-2zM1653 510.2h3V517.1h-3zM1656 525.1h2V542.0h-2zM1658 487.8h3V506.4h-3zM1661 537.6h2V542.0h-2zM1663 504.1h3V512.1h-3zM1666 447.0h2V491.4h-2zM1668 501.8h3V505.8h-3zM1671 459.7h2V499.1h-2zM1673 520.1h3V524.3h-3zM1676 522.9h2V523.9h-2zM1678 548.2h3V549.1h-3zM1681 521.2h2V528.5h-2zM1683 535.9h3V547.4h-3zM1686 525.1h2V534.3h-2zM1688 528.3h3V532.6h-3zM1691 515.4h2V527.2h-2zM1696 512.3h2V528.3h-2zM1698 486.3h3V506.0h-3zM1701 528.8h2V545.2h-2zM1703 486.1h3V530.4h-3zM1706 455.9h2V532.3h-2zM1708 528.1h3V549.6h-3zM1711 416.5h2V497.7h-2zM1713 534.2h3V535.6h-3zM1716 491.9h2V495.9h-2zM1718 528.6h3V538.8h-3zM1721 528.5h2V550.7h-2zM1723 508.7h3V546.7h-3zM1726 485.9h2V535.9h-2zM1728 532.7h3V535.8h-3zM1731 539.4h2V545.8h-2zM1733 506.7h3V516.4h-3zM1736 492.8h2V550.3h-2zM1738 520.1h3V522.7h-3zM1741 476.5h2V511.6h-2zM1743 456.0h3V501.8h-3zM1746 500.8h2V503.1h-2zM1748 530.5h3V538.2h-3zM1751 493.5h2V533.8h-2zM1753 540.8h3V541.6h-3zM1756 486.6h2V504.0h-2zM1758 480.1h3V483.3h-3zM1761 471.4h2V487.4h-2zM1763 539.4h3V543.1h-3zM1766 456.9h2V490.7h-2zM1768 493.7h3V536.1h-3zM1771 552.0h2V554.4h-2zM1773 513.5h3V522.1h-3zM1776 454.7h2V545.3h-2zM1781 520.0h2V529.9h-2zM1783 495.6h3V538.4h-3zM1786 512.9h2V544.2h-2zM1788 530.0h3V542.4h-3zM1791 511.3h2V512.6h-2zM1793 547.4h3V548.1h-3zM1796 533.1h2V537.4h-2zM1798 529.0h3V531.4h-3zM1801 506.8h2V513.0h-2zM1803 456.2h3V479.6h-3zM1806 542.0h2V544.3h-2zM1808 554.2h3V558.4h-3zM1811 549.1h2V553.8h-2zM1813 421.8h3V460.4h-3zM1816 524.5h2V528.6h-2zM1818 479.0h3V480.1h-3zM1821 480.0h2V507.3h-2zM1823 534.1h3V538.4h-3zM1826 542.9h2V548.2h-2zM1828 450.4h3V461.8h-3zM1831 512.8h2V542.8h-2zM1833 456.1h3V517.9h-3zM1836 516.8h2V532.9h-2zM1838 492.6h3V528.1h-3zM1841 481.5h2V498.3h-2zM1843 535.5h3V546.2h-3zM1846 514.5h2V545.7h-2zM1848 493.1h3V506.5h-3zM1851 529.8h2V533.0h-2zM1853 417.4h3V443.9h-3zM1856 456.8h2V537.7h-2zM1858 541.5h3V549.1h-3zM1861 505.9h2V543.8h-2zM1863 546.6h3V553.2h-3zM1866 450.3h2V493.8h-2zM1868 535.1h3V538.0h-3zM1871 480.4h2V487.7h-2zM1873 547.5h3V552.1h-3zM1876 548.1h2V555.3h-2zM1881 533.8h2V552.9h-2z"/>
<path fill="#00f" fill-opacity="0.5" d="M243 552.2h3V554.0h-3zM246 533.9h2V545.2h-2zM248 548.0h3V553.5h-3zM251 517.8h2V543.6h-2zM253 525.6h3V535.5h-3zM256 541.5h2V543.5h-2zM258 540.1h3V543.7h-3zM261 527.9h2V530.4h-2zM263 537.8h3V539.0h-3zM266 535.3h2V544.3h-2zM268 533.7h3V547.4h-3zM271 553.5h2V558.4h-2zM301 529.4h2V539.5h-2zM303 549.1h3V550.3h-3zM306 546.5h2V550.8h-2zM308 524.1h3V527.4h-3zM311 543.8h2V548.2h-2zM313 552.3h3V558.4h-3zM316 543.5h2V548.2h-2zM318 540.3h3V552.9h-3zM321 526.0h2V546.4h-2zM323 551.6h3V554.2h-3zM326 527.3h2V529.3h-2zM328 546.4h3V552.0h-3zM331 533.4h2V539.6h-2zM333 536.1h3V544.5h-3zM336 545.4h2V548.0h-2zM338 523.3h3V527.3h-3zM341 531.2h2V537.4h-2zM343 546.6h3V547.9h-3zM346 522.4h2V536.3h-2zM348 543.2h3V546.8h-3zM351 552.6h2V553.0h-2zM353 524.9h3V529.8h-3zM356 536.9h2V540.9h-2zM358 534.5h3V549.4h-3zM361 542.4h2V549.6h-2zM363 547.6h3V548.7h-3zM366 548.1h2V552.4h-2zM368 550.7h3V553.7h-3zM371 531.9h2V555.1h-2zM373 527.0h3V539.9h-3zM376 541.8h2V549.6h-2zM378 551.3h3V553.3h-3zM381 523.5h2V551.6h-2zM383 542.5h3V550.6h-3zM386 540.4h2V544.2h-2zM388 543.5h3V547.8h-3zM391 536.9h2V540.3h-2zM393 547.3h3V550.5h-3zM396 538.9h2V549.3h-2zM401 553.6h2V555.6h-2zM403 547.0h3V548.6h-3zM421 545.2h2V549.8h-2zM423 521.6h3V522.8h-3zM426 540.6h2V543.2h-2zM428 550.7h3V554.9h-3zM431 537.2h2V558.4h-2zM433 527.6h3V538.8h-3zM438 541.7h3V544.8h-3zM446 546.4h2V550.0h-2zM448 501.3h3V550.9h-3zM451 548.0h2V558.4h-2zM453 535.4h3V541.3h-3zM456 532.2h2V539.3h-2zM458 534.4h3V553.0h-3zM461 538.0h2V551.7h-2zM463 515.2h3V519.2h-3zM466 540.9h2V544.4h-2zM468 540.4h3V545.1h-3zM471 504.7h2V539.2h-2zM473 529.2h3V546.1h-3zM476 544.8h2V546.1h-2zM481 514.3h2V541.6h-2zM483 555.4h3V558.4h-3zM486 499.1h2V528.2h-2zM488 496.7h3V500.6h-3zM491 524.0h2V535.2h-2zM493 548.0h3V555.1h-3zM498 548.6h3V551.5h-3zM501 496.5h2V526.6h-2zM503 547.1h3V548.3h-3zM506 510.1h2V527.1h-2zM508 500.5h3V514.9h-3zM511 539.6h2V552.7h-2zM513 519.6h3V558.4h-3zM516 497.1h2V549.8h-2zM518 544.0h3V553.2h-3zM521 523.8h2V526.2h-2zM523 529.8h3V530.2h-3zM526 512.8h2V529.4h-2zM528 547.4h3V554.8h-3zM531 537.6h2V544.5h-2zM533 530.3h3V536.8h-3zM536 510.3h2V519.6h-2zM538 538.7h3V542.7h-3zM541 520.5h2V538.2h-2zM543 516.3h3V524.5h-3zM546 530.7h2V539.8h-2zM548 549.1h3V551.3h-3zM551 553.9h2V558.4h-2zM553 540.7h3V545.4h-3zM556 541.5h2V552.5h-2zM558 519.0h3V542.9h-3zM561 540.9h2V546.1h-2zM563 504.7h3V530.1h-3zM566 523.2h2V543.9h-2zM568 498.1h3V527.1h-3zM571 533.3h2V538.1h-2zM573 522.7h3V543.3h-3zM576 544.6h2V558.4h-2zM578 461.1h3V463.7h-3zM581 493.0h2V504.4h-2zM583 507.1h3V517.7h-3zM586 552.5h2V553.4h-2zM588 451.0h3V514.7h-3zM591 488.3h2V493.3h-2zM593 492.3h3V493.6h-3zM596 509.3h2V540.8h-2zM598 514.5h3V528.3h-3zM601 497.7h2V524.3h-2zM606 539.0h2V546.2h-2zM608 170.6h3V281.6h-3zM611 122.1h2V535.6h-2zM613 393.1h3V461.5h-3zM616 486.7h2V508.0h-2zM621 489.5h2V555.7h-2zM623 187.7h3V458.0h-3zM626 122.1h2V138.4h-2zM628 535.5h3V544.4h-3zM631 440.5h2V468.3h-2zM633 122.1h3V447.1h-3zM636 515.3h2V558.4h-2zM638 459.1h3V541.1h-3zM641 325.8h2V344.7h-2zM643 472.0h3V534.6h-3zM648 384.1h3V475.3h-3zM651 405.1h2V463.0h-2zM653 552.3h3V555.4h-3zM658 185.4h3V190.3h-3zM661 363.8h2V426.6h-2zM666 263.4h2V320.6h-2zM673 478.8h3V554.6h-3zM676 552.1h2V558.4h-2zM678 122.1h3V230.0h-3zM681 396.4h2V558.4h-2zM683 306.7h3V371.5h-3zM686 372.5h2V376.6h-2zM688 352.6h3V500.8h-3zM691 425.6h2V440.8h-2zM693 501.1h3V554.2h-3zM696 122.1h2V420.2h-2zM698 138.5h3V253.3h-3zM701 241.2h2V505.8h-2zM703 551.1h3V552.9h-3zM706 376.0h2V502.8h-2zM708 301.9h3V491.6h-3zM711 425.0h2V524.6h-2zM713 222.4h3V525.1h-3zM716 122.1h2V330.8h-2zM718 539.5h3V555.0h-3zM721 379.9h2V483.0h-2zM723 122.1h3V558.4h-3zM728 122.1h3V552.8h-3zM731 512.2h2V558.4h-2zM751 122.1h2V558.4h-2zM756 503.9h2V524.7h-2zM761 555.9h2V558.4h-2zM763 406.1h3V463.5h-3zM766 546.4h2V551.3h-2zM768 535.0h3V546.2h-3zM771 453.2h2V497.1h-2zM773 518.4h3V524.1h-3zM776 507.2h2V558.4h-2zM778 524.7h3V526.3h-3zM781 543.9h2V558.4h-2zM783 548.5h3V550.1h-3zM786 546.2h2V549.1h-2zM788 516.8h3V524.5h-3zM791 530.8h2V532.3h-2zM793 542.5h3V543.6h-3zM796 545.1h2V552.0h-2zM798 540.6h3V550.6h-3zM801 488.3h2V541.6h-2zM806 514.6h2V554.1h-2zM808 476.6h3V537.5h-3zM811 553.6h2V558.4h-2zM813 534.9h3V550.6h-3zM818 537.3h3V551.2h-3zM821 517.2h2V522.8h-2zM823 429.7h3V430.5h-3zM826 531.8h2V533.0h-2zM828 547.1h3V558.4h-3zM831 465.9h2V506.9h-2zM833 501.3h3V509.8h-3zM836 541.1h2V554.6h-2zM838 521.8h3V536.3h-3zM841 535.6h2V538.1h-2zM843 548.7h3V551.4h-3zM846 550.7h2V558.4h-2zM848 506.9h3V521.8h-3zM851 515.9h2V539.1h-2zM853 523.2h3V527.5h-3zM858 543.7h3V549.9h-3zM861 492.8h2V507.2h-2zM863 505.3h3V515.4h-3zM866 445.8h2V479.4h-2zM868 512.7h3V550.1h-3zM873 540.5h3V558.4h-3zM876 511.3h2V517.2h-2zM878 546.5h3V550.1h-3zM881 479.9h2V481.3h-2zM883 545.8h3V550.8h-3zM886 544.8h2V553.0h-2zM888 544.4h3V558.4h-3zM891 554.3h2V558.4h-2zM896 552.1h2V558.4h-2zM898 535.4h3V558.4h-3zM903 530.8h3V538.3h-3zM906 554.5h2V558.4h-2zM913 533.2h3V558.4h-3zM916 552.1h2V554.6h-2zM921 555.8h2V558.4h-2zM923 532.8h3V552.4h-3zM926 555.5h2V558.4h-2zM938 547.4h3V558.4h-3zM946 503.9h2V525.3h-2zM948 541.0h3V558.4h-3zM951 549.1h2V558.4h-2zM953 548.7h3V558.4h-3zM956 525.6h2V558.4h-2zM958 553.6h3V558.4h-3zM961 514.9h2V544.3h-2zM963 544.5h3V558.4h-3zM966 551.7h2V558.4h-2zM971 552.9h2V558.4h-2zM973 544.7h3V558.4h-3zM978 554.5h3V555.3h-3zM981 555.5h2V558.4h-2zM983 549.5h3V550.3h-3zM986 549.4h2V558.4h-2zM988 545.3h3V548.3h-3zM991 544.5h2V558.4h-2zM1003 553.4h3V555.1h-3zM1006 553.2h2V555.6h-2zM1008 532.6h3V555.0h-3zM1011 529.3h2V551.5h-2zM1013 552.0h3V553.5h-3zM1016 552.0h2V553.8h-2zM1018 541.5h3V555.6h-3zM1021 539.7h2V554.7h-2zM1026 551.0h2V554.4h-2zM1028 512.6h3V534.3h-3zM1031 122.1h2V230.3h-2zM1033 140.6h3V344.3h-3zM1036 147.5h2V432.2h-2zM1038 441.0h3V534.1h-3zM1041 158.5h2V395.3h-2zM1043 122.1h3V140.6h-3zM1051 122.1h2V145.7h-2zM1053 193.7h3V401.9h-3zM1056 168.4h2V528.6h-2zM1061 259.4h2V316.0h-2zM1063 393.4h3V402.0h-3zM1066 331.5h2V340.9h-2zM1073 455.7h3V537.4h-3zM1076 161.5h2V324.6h-2zM1078 200.9h3V277.1h-3zM1083 122.1h3V241.1h-3zM1088 225.0h3V316.9h-3zM1091 448.5h2V456.7h-2zM1103 123.6h3V140.4h-3zM1106 207.3h2V352.8h-2zM1108 394.9h3V498.6h-3zM1111 122.1h2V213.7h-2zM1113 522.0h3V549.9h-3zM1116 521.1h2V542.4h-2zM1118 345.0h3V452.0h-3zM1131 515.5h2V530.4h-2zM1133 288.6h3V533.4h-3zM1138 513.0h3V515.5h-3zM1141 162.7h2V354.7h-2zM1146 263.8h2V547.5h-2zM1151 122.1h2V337.1h-2zM1153 255.7h3V365.1h-3zM1156 551.6h2V553.4h-2zM1158 368.7h3V472.4h-3zM1161 311.8h2V380.5h-2zM1346 122.1h2V269.6h-2zM1416 122.1h2V508.2h-2zM1461 525.0h2V540.8h-2zM1463 550.0h3V554.9h-3zM1466 514.4h2V537.6h-2zM1468 538.3h3V540.6h-3zM1471 531.2h2V540.0h-2zM1473 547.5h3V558.4h-3zM1521 553.4h2V554.7h-2zM1523 533.0h3V545.6h-3zM1526 520.2h2V554.5h-2zM1528 505.7h3V524.3h-3zM1531 547.5h2V554.7h-2zM1533 540.1h3V558.4h-3zM1536 554.5h2V555.2h-2zM1538 533.4h3V538.3h-3zM1541 511.8h2V558.4h-2zM1543 518.0h3V558.4h-3zM1546 524.9h2V544.1h-2zM1548 487.5h3V519.3h-3zM1551 507.5h2V520.1h-2zM1553 532.4h3V544.9h-3zM1556 530.7h2V547.7h-2zM1558 446.1h3V531.0h-3zM1561 540.6h2V547.2h-2zM1563 548.7h3V551.6h-3zM1566 540.8h2V547.5h-2zM1568 514.2h3V537.9h-3zM1571 549.9h2V553.1h-2zM1573 512.7h3V535.5h-3zM1576 535.2h2V537.1h-2zM1578 520.5h3V546.8h-3zM1581 535.3h2V546.3h-2zM1583 531.6h3V549.3h-3zM1586 541.6h2V543.8h-2zM1588 545.6h3V548.5h-3zM1591 542.1h2V549.8h-2zM1593 534.6h3V541.1h-3zM1596 540.5h2V548.3h-2zM1598 539.6h3V550.0h-3zM1601 512.6h2V519.4h-2zM1603 544.6h3V548.5h-3zM1606 551.6h2V558.4h-2zM1608 457.7h3V482.6h-3zM1611 527.2h2V554.7h-2zM1613 534.0h3V544.9h-3zM1616 516.1h2V517.7h-2zM1618 513.2h3V554.4h-3zM1621 549.8h2V555.1h-2zM1623 493.9h3V511.4h-3zM1626 537.0h2V537.7h-2zM1628 526.6h3V544.8h-3zM1631 538.5h2V548.9h-2zM1633 501.7h3V543.3h-3zM1636 521.3h2V532.1h-2zM1638 549.7h3V550.9h-3zM1641 498.5h2V520.0h-2zM1646 528.3h2V538.7h-2zM1648 545.4h3V552.9h-3zM1651 542.0h2V550.3h-2zM1653 517.1h3V527.3h-3zM1656 542.0h2V558.4h-2zM1658 506.4h3V542.5h-3zM1661 542.0h2V552.2h-2zM1663 512.1h3V527.9h-3zM1666 491.4h2V521.3h-2zM1668 505.8h3V534.1h-3zM1671 499.1h2V501.5h-2zM1673 524.3h3V546.4h-3zM1676 523.9h2V538.3h-2zM1678 549.1h3V554.9h-3zM1681 528.5h2V532.2h-2zM1683 547.4h3V552.5h-3zM1686 534.3h2V540.0h-2zM1688 532.6h3V534.9h-3zM1691 527.2h2V545.4h-2zM1693 535.0h3V541.6h-3zM1696 528.3h2V528.8h-2zM1698 506.0h3V528.7h-3zM1701 545.2h2V546.1h-2zM1703 530.4h3V535.1h-3zM1706 532.3h2V555.3h-2zM1708 549.6h3V550.8h-3zM1711 497.7h2V512.5h-2zM1713 535.6h3V558.4h-3zM1716 495.9h2V501.5h-2zM1718 538.8h3V546.8h-3zM1721 550.7h2V554.4h-2zM1723 546.7h3V547.6h-3zM1726 535.9h2V548.8h-2zM1728 535.8h3V541.0h-3zM1731 545.8h2V554.5h-2zM1733 516.4h3V517.7h-3zM1736 550.3h2V554.8h-2zM1738 522.7h3V528.8h-3zM1741 511.6h2V547.9h-2zM1743 501.8h3V503.9h-3zM1746 503.1h2V526.0h-2zM1748 538.2h3V545.3h-3zM1751 533.8h2V539.0h-2zM1753 541.6h3V545.9h-3zM1756 504.0h2V535.5h-2zM1758 483.3h3V487.8h-3zM1761 487.4h2V489.3h-2zM1763 543.1h3V548.0h-3zM1766 490.7h2V526.3h-2zM1771 554.4h2V554.8h-2zM1773 522.1h3V525.4h-3zM1781 529.9h2V540.1h-2zM1783 538.4h3V543.1h-3zM1786 544.2h2V548.2h-2zM1788 542.4h3V547.0h-3zM1791 512.6h2V547.7h-2zM1793 548.1h3V550.1h-3zM1796 537.4h2V540.2h-2zM1798 531.4h3V540.3h-3zM1801 513.0h2V516.3h-2zM1803 479.6h3V532.7h-3zM1806 544.3h2V552.4h-2zM1813 460.4h3V498.7h-3zM1816 528.6h2V554.8h-2zM1818 480.1h3V492.2h-3zM1821 507.3h2V533.3h-2zM1823 538.4h3V541.7h-3zM1826 548.2h2V552.7h-2zM1828 461.8h3V548.5h-3zM1831 542.8h2V545.5h-2zM1833 517.9h3V532.2h-3zM1836 532.9h2V545.9h-2zM1838 528.1h3V539.7h-3zM1841 498.3h2V504.0h-2zM1843 546.2h3V549.5h-3zM1846 545.7h2V558.4h-2zM1848 506.5h3V540.5h-3zM1851 533.0h2V554.0h-2zM1853 443.9h3V446.5h-3zM1856 537.7h2V555.4h-2zM1858 549.1h3V558.4h-3zM1861 543.8h2V551.2h-2zM1863 553.2h3V558.4h-3zM1866 493.8h2V505.1h-2zM1868 538.0h3V544.8h-3zM1871 487.7h2V493.5h-2zM1873 552.1h3V558.4h-3zM1876 555.3h2V558.4h-2zM1878 549.1h3V552.7h-3zM1881 552.9h2V558.4h-2z"/>
<path fill="#00f" fill-opacity="0.625" d="M241 541.9h2V553.1h-2zM243 554.0h3V558.4h-3zM246 545.2h2V546.8h-2zM248 553.5h3V554.9h-3zM251 543.6h2V544.9h-2zM253 535.5h3V545.0h-3zM256 543.5h2V551.9h-2zM258 543.7h3V550.8h-3zM261 530.4h2V552.3h-2zM263 539.0h3V551.7h-3zM266 544.3h2V544.7h-2zM268 547.4h3V558.4h-3zM301 539.5h2V551.7h-2zM303 550.3h3V553.9h-3zM306 550.8h2V558.4h-2zM308 527.4h3V535.2h-3zM311 548.2h2V554.5h-2zM316 548.2h2V550.2h-2zM318 552.9h3V553.7h-3zM321 546.4h2V549.4h-2zM323 554.2h3V555.9h-3zM326 529.3h2V544.0h-2zM328 552.0h3V553.4h-3zM331 539.6h2V543.3h-2zM333 544.5h3V553.4h-3zM336 548.0h2V558.4h-2zM338 527.3h3V543.8h-3zM341 537.4h2V552.1h-2zM343 547.9h3V555.7h-3zM346 536.3h2V544.5h-2zM348 546.8h3V551.0h-3zM351 553.0h2V558.4h-2zM353 529.8h3V548.2h-3zM356 540.9h2V558.4h-2zM358 549.4h3V555.0h-3zM361 549.6h2V550.2h-2zM363 548.7h3V558.4h-3zM366 552.4h2V558.4h-2zM368 553.7h3V554.8h-3zM371 555.1h2V555.9h-2zM373 539.9h3V547.0h-3zM376 549.6h2V558.4h-2zM378 553.3h3V554.3h-3zM383 550.6h3V558.4h-3zM386 544.2h2V558.4h-2zM388 547.8h3V552.3h-3zM391 540.3h2V544.3h-2zM396 549.3h2V555.6h-2zM398 530.8h3V552.8h-3zM401 555.6h2V558.4h-2zM403 548.6h3V558.4h-3zM421 549.8h2V551.8h-2zM423 522.8h3V539.1h-3zM428 554.9h3V558.4h-3zM433 538.8h3V558.4h-3zM438 544.8h3V554.0h-3zM441 546.1h2V552.6h-2zM446 550.0h2V555.6h-2zM448 550.9h3V554.9h-3zM453 541.3h3V546.9h-3zM456 539.3h2V558.4h-2zM458 553.0h3V558.4h-3zM461 551.7h2V555.7h-2zM463 519.2h3V553.8h-3zM466 544.4h2V558.4h-2zM468 545.1h3V558.4h-3zM471 539.2h2V553.1h-2zM473 546.1h3V548.2h-3zM476 546.1h2V558.4h-2zM478 547.6h3V558.4h-3zM481 541.6h2V550.2h-2zM486 528.2h2V558.4h-2zM488 500.6h3V554.5h-3zM491 535.2h2V555.9h-2zM493 555.1h3V558.4h-3zM498 551.5h3V553.3h-3zM501 526.6h2V530.5h-2zM503 548.3h3V551.3h-3zM506 527.1h2V542.1h-2zM508 514.9h3V525.7h-3zM511 552.7h2V558.4h-2zM516 549.8h2V555.8h-2zM518 553.2h3V558.4h-3zM521 526.2h2V558.4h-2zM523 530.2h3V537.6h-3zM526 529.4h2V537.6h-2zM531 544.5h2V548.9h-2zM533 536.8h3V549.5h-3zM536 519.6h2V552.7h-2zM538 542.7h3V558.4h-3zM541 538.2h2V551.1h-2zM543 524.5h3V535.2h-3zM546 539.8h2V551.5h-2zM548 551.3h3V553.8h-3zM553 545.4h3V551.7h-3zM556 552.5h2V554.5h-2zM558 542.9h3V550.3h-3zM561 546.1h2V548.8h-2zM563 530.1h3V533.0h-3zM566 543.9h2V558.4h-2zM568 527.1h3V555.7h-3zM571 538.1h2V558.4h-2zM573 543.3h3V558.4h-3zM578 463.7h3V488.8h-3zM581 504.4h2V558.4h-2zM583 517.7h3V554.4h-3zM586 553.4h2V558.4h-2zM588 514.7h3V540.9h-3zM591 493.3h2V525.6h-2zM593 493.6h3V545.1h-3zM596 540.8h2V558.4h-2zM598 528.3h3V529.7h-3zM601 524.3h2V558.4h-2zM606 546.2h2V555.3h-2zM608 281.6h3V317.2h-3zM611 535.6h2V555.9h-2zM613 461.5h3V558.4h-3zM616 508.0h2V553.6h-2zM618 122.1h3V246.4h-3zM621 555.7h2V558.4h-2zM623 458.0h3V558.4h-3zM626 138.4h2V499.9h-2zM628 544.4h3V558.4h-3zM631 468.3h2V558.4h-2zM633 447.1h3V501.2h-3zM638 541.1h3V542.5h-3zM641 344.7h2V558.4h-2zM643 534.6h3V555.9h-3zM648 475.3h3V522.2h-3zM651 463.0h2V528.6h-2zM653 555.4h3V558.4h-3zM658 190.3h3V505.8h-3zM661 426.6h2V483.1h-2zM663 122.1h3V558.4h-3zM666 320.6h2V534.7h-2zM673 554.6h3V558.4h-3zM678 230.0h3V306.6h-3zM683 371.5h3V558.4h-3zM686 376.6h2V388.0h-2zM688 500.8h3V524.4h-3zM691 440.8h2V451.0h-2zM693 554.2h3V555.4h-3zM696 420.2h2V558.4h-2zM698 253.3h3V525.5h-3zM701 505.8h2V542.1h-2zM703 552.9h3V553.5h-3zM706 502.8h2V503.4h-2zM708 491.6h3V495.6h-3zM711 524.6h2V546.1h-2zM713 525.1h3V552.3h-3zM716 330.8h2V555.6h-2zM718 555.0h3V558.4h-3zM721 483.0h2V546.3h-2zM728 552.8h3V558.4h-3zM756 524.7h2V544.2h-2zM763 463.5h3V510.4h-3zM766 551.3h2V553.0h-2zM768 546.2h3V554.8h-3zM771 497.1h2V543.2h-2zM773 524.1h3V524.5h-3zM778 526.3h3V535.2h-3zM783 550.1h3V552.2h-3zM786 549.1h2V558.4h-2zM788 524.5h3V558.4h-3zM791 532.3h2V553.3h-2zM793 543.6h3V549.2h-3zM796 552.0h2V558.4h-2zM798 550.6h3V555.0h-3zM801 541.6h2V558.4h-2zM806 554.1h2V558.4h-2zM808 537.5h3V558.4h-3zM813 550.6h3V558.4h-3zM818 551.2h3V552.8h-3zM821 522.8h2V558.4h-2zM823 430.5h3V482.3h-3zM826 533.0h2V558.4h-2zM831 506.9h2V520.3h-2zM833 509.8h3V524.4h-3zM838 536.3h3V554.9h-3zM841 538.1h2V544.6h-2zM843 551.4h3V558.4h-3zM848 521.8h3V537.7h-3zM851 539.1h2V554.8h-2zM853 527.5h3V550.3h-3zM856 525.7h2V541.6h-2zM858 549.9h3V553.4h-3zM861 507.2h2V519.4h-2zM863 515.4h3V537.0h-3zM866 479.4h2V512.3h-2zM868 550.1h3V558.4h-3zM876 517.2h2V524.9h-2zM878 550.1h3V558.4h-3zM881 481.3h2V515.5h-2zM883 550.8h3V558.4h-3zM886 553.0h2V558.4h-2zM903 538.3h3V558.4h-3zM916 554.6h2V558.4h-2zM923 552.4h3V558.4h-3zM946 525.3h2V545.0h-2zM961 544.3h2V558.4h-2zM978 555.3h3V558.4h-3zM983 550.3h3V558.4h-3zM988 548.3h3V551.5h-3zM1003 555.1h3V558.4h-3zM1006 555.6h2V558.4h-2zM1008 555.0h3V558.4h-3zM1011 551.5h2V558.4h-2zM1013 553.5h3V558.4h-3zM1016 553.8h2V558.4h-2zM1021 554.7h2V558.4h-2zM1023 547.4h3V548.7h-3zM1026 554.4h2V555.4h-2zM1028 534.3h3V558.4h-3zM1031 230.3h2V350.1h-2zM1033 344.3h3V453.1h-3zM1036 432.2h2V456.4h-2zM1038 534.1h3V554.7h-3zM1041 395.3h2V418.0h-2zM1043 140.6h3V287.9h-3zM1051 145.7h2V519.1h-2zM1053 401.9h3V526.7h-3zM1056 528.6h2V555.8h-2zM1061 316.0h2V475.4h-2zM1063 402.0h3V542.3h-3zM1066 340.9h2V385.3h-2zM1068 122.1h3V232.5h-3zM1071 122.1h2V401.9h-2zM1073 537.4h3V555.9h-3zM1076 324.6h2V411.7h-2zM1078 277.1h3V336.0h-3zM1083 241.1h3V489.3h-3zM1088 316.9h3V531.3h-3zM1091 456.7h2V508.5h-2zM1093 122.1h3V407.1h-3zM1096 122.1h2V558.4h-2zM1098 122.1h3V405.0h-3zM1101 122.1h2V558.4h-2zM1103 140.4h3V342.6h-3zM1106 352.8h2V558.4h-2zM1108 498.6h3V499.4h-3zM1111 213.7h2V465.4h-2zM1113 549.9h3V558.4h-3zM1116 542.4h2V554.9h-2zM1118 452.0h3V495.2h-3zM1123 122.1h3V193.4h-3zM1126 122.1h2V551.3h-2zM1128 122.1h3V207.7h-3zM1131 530.4h2V555.0h-2zM1133 533.4h3V558.4h-3zM1138 515.5h3V530.2h-3zM1141 354.7h2V546.1h-2zM1146 547.5h2V558.4h-2zM1148 122.1h3V501.5h-3zM1151 337.1h2V403.7h-2zM1153 365.1h3V392.2h-3zM1156 553.4h2V555.9h-2zM1158 472.4h3V558.4h-3zM1161 380.5h2V555.9h-2zM1328 122.1h3V135.1h-3zM1343 165.5h3V174.2h-3zM1346 269.6h2V274.0h-2zM1413 122.1h3V230.6h-3zM1416 508.2h2V512.6h-2zM1461 540.8h2V558.4h-2zM1463 554.9h3V558.4h-3zM1466 537.6h2V558.4h-2zM1468 540.6h3V549.6h-3zM1471 540.0h2V541.2h-2zM1518 122.1h3V558.4h-3zM1521 554.7h2V558.4h-2zM1523 545.6h3V554.5h-3zM1526 554.5h2V558.4h-2zM1528 524.3h3V531.4h-3zM1531 554.7h2V558.4h-2zM1536 555.2h2V558.4h-2zM1538 538.3h3V558.4h-3zM1546 544.1h2V550.0h-2zM1548 519.3h3V558.4h-3zM1551 520.1h2V539.4h-2zM1553 544.9h3V558.4h-3zM1556 547.7h2V548.7h-2zM1558 531.0h3V538.8h-3zM1561 547.2h2V558.4h-2zM1563 551.6h3V558.4h-3zM1566 547.5h2V548.5h-2zM1568 537.9h3V541.5h-3zM1571 553.1h2V558.4h-2zM1573 535.5h3V548.9h-3zM1576 537.1h2V544.1h-2zM1578 546.8h3V550.2h-3zM1581 546.3h2V553.1h-2zM1583 549.3h3V553.5h-3zM1586 543.8h2V548.7h-2zM1588 548.5h3V549.3h-3zM1591 549.8h2V553.7h-2zM1593 541.1h3V553.9h-3zM1596 548.3h2V548.9h-2zM1598 550.0h3V555.2h-3zM1601 519.4h2V533.6h-2zM1603 548.5h3V553.6h-3zM1608 482.6h3V516.8h-3zM1611 554.7h2V558.4h-2zM1613 544.9h3V558.4h-3zM1616 517.7h2V551.7h-2zM1618 554.4h3V558.4h-3zM1621 555.1h2V558.4h-2zM1623 511.4h3V538.4h-3zM1626 537.7h2V558.4h-2zM1628 544.8h3V548.6h-3zM1631 548.9h2V554.4h-2zM1633 543.3h3V558.4h-3zM1636 532.1h2V538.6h-2zM1638 550.9h3V558.4h-3zM1641 520.0h2V542.7h-2zM1646 538.7h2V549.9h-2zM1648 552.9h3V558.4h-3zM1651 550.3h2V554.5h-2zM1653 527.3h3V555.4h-3zM1658 542.5h3V547.1h-3zM1663 527.9h3V558.4h-3zM1666 521.3h2V532.2h-2zM1668 534.1h3V552.2h-3zM1671 501.5h2V535.7h-2zM1673 546.4h3V548.5h-3zM1676 538.3h2V558.4h-2zM1678 554.9h3V558.4h-3zM1681 532.2h2V553.0h-2zM1683 552.5h3V558.4h-3zM1686 540.0h2V543.8h-2zM1688 534.9h3V555.6h-3zM1691 545.4h2V558.4h-2zM1693 541.6h3V551.1h-3zM1696 528.8h2V549.1h-2zM1698 528.7h3V558.4h-3zM1701 546.1h2V555.9h-2zM1703 535.1h3V546.6h-3zM1706 555.3h2V558.4h-2zM1708 550.8h3V555.1h-3zM1711 512.5h2V521.1h-2zM1716 501.5h2V536.0h-2zM1718 546.8h3V553.6h-3zM1721 554.4h2V558.4h-2zM1723 547.6h3V558.4h-3zM1726 548.8h2V558.4h-2zM1728 541.0h3V558.4h-3zM1731 554.5h2V558.4h-2zM1733 517.7h3V548.0h-3zM1736 554.8h2V555.9h-2zM1738 528.8h3V545.0h-3zM1741 547.9h2V551.2h-2zM1743 503.9h3V514.4h-3zM1746 526.0h2V542.6h-2zM1748 545.3h3V551.4h-3zM1751 539.0h2V554.1h-2zM1753 545.9h3V547.6h-3zM1756 535.5h2V558.4h-2zM1758 487.8h3V549.7h-3zM1761 489.3h2V508.6h-2zM1763 548.0h3V558.4h-3zM1766 526.3h2V558.4h-2zM1768 536.5h3V546.8h-3zM1771 554.8h2V558.4h-2zM1773 525.4h3V536.2h-3zM1776 545.7h2V547.0h-2zM1781 540.1h2V554.1h-2zM1783 543.1h3V558.4h-3zM1786 548.2h2V558.4h-2zM1788 547.0h3V558.4h-3zM1791 547.7h2V548.2h-2zM1796 540.2h2V540.7h-2zM1798 540.3h3V554.6h-3zM1801 516.3h2V558.4h-2zM1803 532.7h3V558.4h-3zM1806 552.4h2V558.4h-2zM1811 553.8h2V558.4h-2zM1813 498.7h3V532.5h-3zM1816 554.8h2V555.8h-2zM1818 492.2h3V558.4h-3zM1821 533.3h2V538.3h-2zM1823 541.7h3V558.4h-3zM1826 552.7h2V558.4h-2zM1828 548.5h3V551.0h-3zM1831 545.5h2V558.4h-2zM1833 532.2h3V539.2h-3zM1836 545.9h2V558.4h-2zM1838 539.7h3V558.4h-3zM1841 504.0h2V531.8h-2zM1843 549.5h3V558.4h-3zM1848 540.5h3V551.5h-3zM1851 554.0h2V555.9h-2zM1853 446.5h3V472.1h-3zM1856 555.4h2V558.4h-2zM1861 551.2h2V558.4h-2zM1866 505.1h2V553.1h-2zM1871 493.5h2V558.4h-2zM1878 552.7h3V553.5h-3z"/>
<path fill="#00f" fill-opacity="0.75" d="M241 553.1h2V558.4h-2zM246 546.8h2V558.4h-2zM248 554.9h3V558.4h-3zM251 544.9h2V552.0h-2zM253 545.0h3V548.4h-3zM256 551.9h2V558.4h-2zM258 550.8h3V558.4h-3zM261 552.3h2V558.4h-2zM263 551.7h3V558.4h-3zM266 544.7h2V552.4h-2zM301 551.7h2V558.4h-2zM303 553.9h3V555.3h-3zM308 535.2h3V548.9h-3zM311 554.5h2V558.4h-2zM316 550.2h2V558.4h-2zM318 553.7h3V558.4h-3zM321 549.4h2V558.4h-2zM323 555.9h3V558.4h-3zM326 544.0h2V558.4h-2zM328 553.4h3V558.4h-3zM331 543.3h2V551.9h-2zM333 553.4h3V555.0h-3zM338 543.8h3V555.4h-3zM341 552.1h2V558.4h-2zM343 555.7h3V558.4h-3zM346 544.5h2V545.9h-2zM348 551.0h3V558.4h-3zM353 548.2h3V558.4h-3zM358 555.0h3V558.4h-3zM361 550.2h2V555.9h-2zM368 554.8h3V558.4h-3zM371 555.9h2V558.4h-2zM373 547.0h3V549.9h-3zM378 554.3h3V558.4h-3zM381 551.8h2V558.4h-2zM388 552.3h3V555.6h-3zM391 544.3h2V549.3h-2zM393 550.6h3V558.4h-3zM398 552.8h3V558.4h-3zM421 551.8h2V558.4h-2zM423 539.1h3V541.2h-3zM426 543.5h2V558.4h-2zM438 554.0h3V558.4h-3zM441 552.6h2V555.0h-2zM446 555.6h2V558.4h-2zM448 554.9h3V555.5h-3zM453 546.9h3V551.5h-3zM461 555.7h2V558.4h-2zM463 553.8h3V558.4h-3zM471 553.1h2V558.4h-2zM473 548.2h3V558.4h-3zM481 550.2h2V553.2h-2zM488 554.5h3V558.4h-3zM491 555.9h2V558.4h-2zM498 553.3h3V558.4h-3zM501 530.5h2V558.4h-2zM503 551.3h3V558.4h-3zM506 542.1h2V552.8h-2zM508 525.7h3V558.4h-3zM516 555.8h2V558.4h-2zM523 537.6h3V558.4h-3zM526 537.6h2V555.9h-2zM528 555.0h3V558.4h-3zM531 548.9h2V558.4h-2zM533 549.5h3V558.4h-3zM536 552.7h2V558.4h-2zM541 551.1h2V555.2h-2zM543 535.2h3V558.4h-3zM546 551.5h2V558.4h-2zM548 553.8h3V555.6h-3zM553 551.7h3V558.4h-3zM556 554.5h2V558.4h-2zM558 550.3h3V558.4h-3zM561 548.8h2V549.9h-2zM563 533.0h3V558.4h-3zM568 555.7h3V558.4h-3zM578 488.8h3V518.2h-3zM583 554.4h3V558.4h-3zM588 540.9h3V558.4h-3zM591 525.6h2V558.4h-2zM593 545.1h3V558.4h-3zM598 529.7h3V558.4h-3zM606 555.3h2V558.4h-2zM608 317.2h3V558.4h-3zM611 555.9h2V558.4h-2zM616 553.6h2V558.4h-2zM618 246.4h3V447.1h-3zM626 499.9h2V558.4h-2zM633 501.2h3V504.7h-3zM638 542.5h3V558.4h-3zM643 555.9h3V558.4h-3zM648 522.2h3V558.4h-3zM651 528.6h2V558.4h-2zM656 122.1h2V558.4h-2zM658 505.8h3V558.4h-3zM661 483.1h2V558.4h-2zM666 534.7h2V558.4h-2zM668 122.1h3V558.4h-3zM678 306.6h3V558.4h-3zM686 388.0h2V457.3h-2zM688 524.4h3V558.4h-3zM691 451.0h2V541.9h-2zM693 555.4h3V558.4h-3zM698 525.5h3V558.4h-3zM701 542.1h2V558.4h-2zM703 553.5h3V558.4h-3zM706 503.4h2V558.4h-2zM708 495.6h3V554.0h-3zM711 546.1h2V555.7h-2zM713 552.3h3V558.4h-3zM716 555.6h2V558.4h-2zM721 546.3h2V558.4h-2zM726 122.1h2V558.4h-2zM756 544.2h2V558.4h-2zM763 510.4h3V558.4h-3zM766 553.0h2V558.4h-2zM768 554.8h3V558.4h-3zM771 543.2h2V548.3h-2zM773 524.5h3V551.8h-3zM778 535.2h3V546.9h-3zM783 552.2h3V558.4h-3zM791 553.3h2V558.4h-2zM793 549.2h3V551.4h-3zM798 555.0h3V558.4h-3zM818 552.8h3V558.4h-3zM823 482.3h3V491.2h-3zM831 520.3h2V545.3h-2zM833 524.4h3V558.4h-3zM836 554.6h2V558.4h-2zM838 554.9h3V558.4h-3zM841 544.6h2V558.4h-2zM848 537.7h3V558.4h-3zM851 554.8h2V558.4h-2zM853 550.3h3V558.4h-3zM856 541.6h2V558.4h-2zM858 553.4h3V558.4h-3zM861 519.4h2V558.4h-2zM863 537.0h3V558.4h-3zM866 512.3h2V546.5h-2zM876 524.9h2V558.4h-2zM881 515.5h2V558.4h-2zM928 555.5h3V558.4h-3zM946 545.0h2V558.4h-2zM988 551.5h3V555.4h-3zM1018 555.9h3V558.4h-3zM1023 548.7h3V552.5h-3zM1026 555.4h2V558.4h-2zM1031 350.1h2V558.4h-2zM1033 453.1h3V455.6h-3zM1036 456.4h2V518.7h-2zM1038 554.7h3V558.4h-3zM1041 418.0h2V502.5h-2zM1043 287.9h3V308.2h-3zM1046 122.1h2V379.2h-2zM1048 122.1h3V476.0h-3zM1051 519.1h2V558.4h-2zM1053 526.7h3V558.4h-3zM1056 555.8h2V558.4h-2zM1061 475.4h2V558.4h-2zM1063 542.3h3V558.4h-3zM1066 385.3h2V558.4h-2zM1068 232.5h3V439.4h-3zM1071 401.9h2V500.8h-2zM1073 555.9h3V558.4h-3zM1076 411.7h2V525.3h-2zM1078 336.0h3V541.2h-3zM1081 122.1h2V236.1h-2zM1083 489.3h3V558.4h-3zM1086 122.1h2V558.4h-2zM1088 531.3h3V558.4h-3zM1091 508.5h2V547.1h-2zM1093 407.1h3V558.4h-3zM1098 405.0h3V495.5h-3zM1103 342.6h3V558.4h-3zM1108 499.4h3V558.4h-3zM1111 465.4h2V558.4h-2zM1116 554.9h2V558.4h-2zM1118 495.2h3V554.6h-3zM1123 193.4h3V545.3h-3zM1126 551.3h2V555.8h-2zM1128 207.7h3V558.4h-3zM1131 555.0h2V558.4h-2zM1136 122.1h2V558.4h-2zM1138 530.2h3V555.4h-3zM1141 546.1h2V554.7h-2zM1143 122.1h3V558.4h-3zM1148 501.5h3V532.0h-3zM1151 403.7h2V558.4h-2zM1153 392.2h3V558.4h-3zM1156 555.9h2V558.4h-2zM1161 555.9h2V558.4h-2zM1163 122.1h3V558.4h-3zM1166 122.1h2V558.4h-2zM1181 122.1h2V558.4h-2zM1186 122.1h2V558.4h-2zM1188 122.1h3V558.4h-3zM1201 122.1h2V558.4h-2zM1203 122.1h3V558.4h-3zM1211 122.1h2V558.4h-2zM1216 122.1h2V558.4h-2zM1221 122.1h2V558.4h-2zM1228 122.1h3V558.4h-3zM1231 122.1h2V558.4h-2zM1238 122.1h3V558.4h-3zM1243 122.1h3V558.4h-3zM1246 122.1h2V558.4h-2zM1251 122.1h2V558.4h-2zM1258 122.1h3V558.4h-3zM1266 122.1h2V558.4h-2zM1268 122.1h3V558.4h-3zM1273 122.1h3V558.4h-3zM1278 122.1h3V558.4h-3zM1296 122.1h2V558.4h-2zM1303 122.1h3V558.4h-3zM1308 122.1h3V558.4h-3zM1311 122.1h2V558.4h-2zM1316 122.1h2V558.4h-2zM1318 122.1h3V558.4h-3zM1323 122.1h3V558.4h-3zM1326 122.1h2V558.4h-2zM1328 135.1h3V558.4h-3zM1331 122.1h2V558.4h-2zM1338 122.1h3V558.4h-3zM1341 122.1h2V558.4h-2zM1343 174.2h3V558.4h-3zM1346 274.0h2V558.4h-2zM1353 122.1h3V558.4h-3zM1358 122.1h3V558.4h-3zM1361 122.1h2V558.4h-2zM1376 122.1h2V558.4h-2zM1381 122.1h2V558.4h-2zM1388 122.1h3V558.4h-3zM1393 122.1h3V558.4h-3zM1396 122.1h2V558.4h-2zM1413 230.6h3V558.4h-3zM1416 512.6h2V558.4h-2zM1418 122.1h3V558.4h-3zM1423 122.1h3V558.4h-3zM1453 122.1h3V558.4h-3zM1468 549.6h3V558.4h-3zM1471 541.2h2V549.6h-2zM1523 554.5h3V558.4h-3zM1528 531.4h3V550.9h-3zM1546 550.0h2V551.5h-2zM1551 539.4h2V558.4h-2zM1556 548.7h2V558.4h-2zM1558 538.8h3V558.4h-3zM1566 548.5h2V558.4h-2zM1568 541.5h3V558.4h-3zM1573 548.9h3V553.8h-3zM1576 544.1h2V558.4h-2zM1578 550.2h3V555.4h-3zM1581 553.1h2V558.4h-2zM1583 553.5h3V558.4h-3zM1586 548.7h2V558.4h-2zM1588 549.3h3V558.4h-3zM1591 553.7h2V558.4h-2zM1593 553.9h3V558.4h-3zM1596 548.9h2V555.9h-2zM1598 555.2h3V558.4h-3zM1601 533.6h2V554.0h-2zM1603 553.6h3V558.4h-3zM1608 516.8h3V558.4h-3zM1616 551.7h2V558.4h-2zM1623 538.4h3V550.0h-3zM1628 548.6h3V558.4h-3zM1631 554.4h2V558.4h-2zM1636 538.6h2V558.4h-2zM1641 542.7h2V558.4h-2zM1646 549.9h2V558.4h-2zM1651 554.5h2V558.4h-2zM1653 555.4h3V558.4h-3zM1658 547.1h3V548.9h-3zM1661 552.5h2V552.9h-2zM1666 532.2h2V534.2h-2zM1668 552.2h3V558.4h-3zM1671 535.7h2V558.4h-2zM1673 548.5h3V558.4h-3zM1681 553.0h2V558.4h-2zM1686 543.8h2V558.4h-2zM1693 551.1h3V558.4h-3zM1696 549.1h2V549.6h-2zM1701 555.9h2V558.4h-2zM1703 546.6h3V558.4h-3zM1708 555.1h3V558.4h-3zM1711 521.1h2V530.4h-2zM1716 536.0h2V558.4h-2zM1718 553.6h3V558.4h-3zM1733 548.0h3V550.7h-3zM1736 555.9h2V558.4h-2zM1738 545.0h3V558.4h-3zM1741 551.2h2V558.4h-2zM1743 514.4h3V558.4h-3zM1746 542.6h2V553.7h-2zM1748 551.4h3V558.4h-3zM1751 554.1h2V558.4h-2zM1753 547.6h3V558.4h-3zM1758 549.7h3V558.4h-3zM1761 508.6h2V535.7h-2zM1768 546.8h3V550.6h-3zM1773 536.2h3V558.4h-3zM1776 547.0h2V551.9h-2zM1781 554.1h2V558.4h-2zM1791 548.2h2V558.4h-2zM1793 550.2h3V558.4h-3zM1796 540.7h2V555.2h-2zM1798 554.6h3V558.4h-3zM1813 532.5h3V544.6h-3zM1816 555.8h2V558.4h-2zM1821 538.3h2V558.4h-2zM1828 551.0h3V558.4h-3zM1833 539.2h3V558.4h-3zM1841 531.8h2V540.7h-2zM1848 551.5h3V558.4h-3zM1851 555.9h2V558.4h-2zM1853 472.1h3V497.2h-3zM1866 553.1h2V558.4h-2zM1868 544.8h3V554.2h-3zM1878 553.5h3V558.4h-3z"/>
<path fill="#00f" fill-opacity="0.875" d="M251 552.0h2V558.4h-2zM253 548.4h3V558.4h-3zM266 552.4h2V558.4h-2zM303 555.3h3V558.4h-3zM308 548.9h3V558.4h-3zM331 551.9h2V558.4h-2zM333 555.0h3V558.4h-3zM338 555.4h3V558.4h-3zM346 545.9h2V558.4h-2zM361 555.9h2V558.4h-2zM373 549.9h3V558.4h-3zM388 555.6h3V558.4h-3zM391 549.3h2V558.4h-2zM396 555.7h2V558.4h-2zM423 541.2h3V558.4h-3zM441 555.0h2V558.4h-2zM448 555.5h3V558.4h-3zM453 551.5h3V558.4h-3zM481 553.2h2V558.4h-2zM506 552.8h2V558.4h-2zM526 555.9h2V558.4h-2zM541 555.2h2V558.4h-2zM548 555.6h3V558.4h-3zM561 549.9h2V558.4h-2zM578 518.2h3V558.4h-3zM618 447.1h3V558.4h-3zM633 504.7h3V558.4h-3zM646 122.1h2V558.4h-2zM671 122.1h2V558.4h-2zM686 457.3h2V558.4h-2zM691 541.9h2V558.4h-2zM708 554.0h3V558.4h-3zM711 555.7h2V558.4h-2zM771 548.3h2V558.4h-2zM773 551.8h3V558.4h-3zM778 546.9h3V558.4h-3zM793 551.4h3V558.4h-3zM823 491.2h3V558.4h-3zM831 545.3h2V558.4h-2zM866 546.5h2V558.4h-2zM988 555.4h3V558.4h-3zM1023 552.5h3V558.4h-3zM1033 455.6h3V558.4h-3zM1036 518.7h2V558.4h-2zM1041 502.5h2V558.4h-2zM1043 308.2h3V558.4h-3zM1046 379.2h2V558.4h-2zM1048 476.0h3V558.4h-3zM1058 122.1h3V558.4h-3zM1068 439.4h3V558.4h-3zM1071 500.8h2V558.4h-2zM1076 525.3h2V558.4h-2zM1078 541.2h3V558.4h-3zM1081 236.1h2V558.4h-2zM1091 547.1h2V558.4h-2zM1098 495.5h3V558.4h-3zM1118 554.6h3V558.4h-3zM1121 122.1h2V558.4h-2zM1123 545.3h3V558.4h-3zM1126 555.8h2V558.4h-2zM1138 555.4h3V558.4h-3zM1141 554.7h2V558.4h-2zM1148 532.0h3V558.4h-3zM1168 122.1h3V558.4h-3zM1171 122.1h2V558.4h-2zM1173 122.1h3V558.4h-3zM1176 122.1h2V558.4h-2zM1178 122.1h3V558.4h-3zM1183 122.1h3V558.4h-3zM1191 122.1h2V558.4h-2zM1193 122.1h3V558.4h-3zM1196 122.1h2V558.4h-2zM1198 122.1h3V558.4h-3zM1206 122.1h2V558.4h-2zM1208 122.1h3V558.4h-3zM1213 122.1h3V558.4h-3zM1218 122.1h3V558.4h-3zM1223 122.1h3V558.4h-3zM1226 122.1h2V558.4h-2zM1233 122.1h3V558.4h-3zM1236 122.1h2V558.4h-2zM1241 122.1h2V558.4h-2zM1248 122.1h3V558.4h-3zM1253 122.1h3V558.4h-3zM1256 122.1h2V558.4h-2zM1261 122.1h2V558.4h-2zM1263 122.1h3V558.4h-3zM1271 122.1h2V558.4h-2zM1276 122.1h2V558.4h-2zM1281 122.1h2V558.4h-2zM1283 122.1h3V558.4h-3zM1286 122.1h2V558.4h-2zM1288 122.1h3V558.4h-3zM1291 122.1h2V558.4h-2zM1293 122.1h3V558.4h-3zM1298 122.1h3V558.4h-3zM1301 122.1h2V558.4h-2zM1306 122.1h2V558.4h-2zM1313 122.1h3V558.4h-3zM1321 122.1h2V558.4h-2zM1333 122.1h3V558.4h-3zM1336 122.1h2V558.4h-2zM1348 122.1h3V558.4h-3zM1351 122.1h2V558.4h-2zM1356 122.1h2V558.4h-2zM1363 122.1h3V558.4h-3zM1366 122.1h2V558.4h-2zM1368 122.1h3V558.4h-3zM1371 122.1h2V558.4h-2zM1373 122.1h3V558.4h-3zM1378 122.1h3V558.4h-3zM1383 122.1h3V558.4h-3zM1386 122.1h2V558.4h-2zM1391 122.1h2V558.4h-2zM1398 122.1h3V558.4h-3zM1401 122.1h2V558.4h-2zM1403 122.1h3V558.4h-3zM1406 122.1h2V558.4h-2zM1408 122.1h3V558.4h-3zM1411 122.1h2V558.4h-2zM1421 122.1h2V558.4h-2zM1426 122.1h2V558.4h-2zM1428 122.1h3V558.4h-3zM1431 122.1h2V558.4h-2zM1433 122.1h3V558.4h-3zM1436 122.1h2V558.4h-2zM1438 122.1h3V558.4h-3zM1441 122.1h2V558.4h-2zM1443 122.1h3V558.4h-3zM1446 122.1h2V558.4h-2zM1448 122.1h3V558.4h-3zM1451 122.1h2V558.4h-2zM1456 122.1h2V558.4h-2zM1471 549.6h2V558.4h-2zM1528 550.9h3V558.4h-3zM1546 551.5h2V558.4h-2zM1573 553.8h3V558.4h-3zM1578 555.4h3V558.4h-3zM1596 555.9h2V558.4h-2zM1601 554.0h2V558.4h-2zM1623 550.0h3V558.4h-3zM1658 548.9h3V558.4h-3zM1661 552.9h2V558.4h-2zM1666 534.2h2V558.4h-2zM1688 555.6h3V558.4h-3zM1696 549.6h2V558.4h-2zM1711 530.4h2V558.4h-2zM1733 550.7h3V558.4h-3zM1746 553.7h2V558.4h-2zM1761 535.7h2V558.4h-2zM1768 550.6h3V558.4h-3zM1776 551.9h2V558.4h-2zM1796 555.2h2V558.4h-2zM1813 544.6h3V558.4h-3zM1841 540.7h2V558.4h-2zM1853 497.2h3V558.4h-3zM1868 554.2h3V558.4h-3z"/>
</g>
<g id="lines">
<g fill="#000">
<path fill-opacity="0.5" d="M607.2 927.5H609.8V932.6H607.2zM612.8 943.7H616.5V945.2H612.8zM616.5 900.3H620.1V911.4H616.5zM622.7 929.0H625.3V933.7H622.7zM625.3 887.1H627.8V901.1H625.3zM630.4 862.9H633.0V882.2H630.4zM633.0 901.1H635.4V912.0H633.0zM638.0 907.0H640.3V916.6H638.0zM640.3 908.4H643.3V917.7H640.3zM646.2 912.8H648.4V921.1H646.2zM648.4 914.3H650.2V922.3H648.4zM652.8 895.9H655.8V908.0H652.8zM655.8 909.9H658.3V918.8H655.8zM660.9 934.9H663.5V938.3H660.9zM663.5 931.9H665.8V936.0H663.5zM668.0 839.4H670.5V863.8H668.0zM670.5 889.3H672.7V902.8H670.5zM675.1 891.5H677.7V904.5H675.1zM677.7 918.7H680.2V925.7H677.7zM682.7 939.3H685.2V941.8H682.7zM685.2 907.7H687.5V917.1H685.2zM690.1 917.2H692.7V924.6H690.1zM692.7 934.9H695.3V938.3H692.7zM698.0 927.5H700.6V932.6H698.0zM700.6 940.7H702.8V942.9H700.6zM707.9 897.4H710.9V909.1H707.9zM713.1 907.0H715.4V916.6H713.1zM715.4 904.7H718.0V914.8H715.4zM720.4 918.7H722.8V925.7H720.4zM722.8 895.9H725.3V908.0H722.8zM728.1 895.2H730.8V907.4H728.1zM1027.8 895.9H1031.0V908.0H1027.8zM1034.5 918.7H1038.2V925.7H1034.5zM1038.2 912.8H1042.2V921.1H1038.2zM1045.9 846.0H1049.2V869.0H1045.9zM1049.2 892.3H1052.2V905.1H1049.2zM1055.1 818.8H1057.7V847.8H1055.1zM1057.7 859.9H1059.9V879.9H1057.7zM1062.5 938.5H1065.4V941.2H1062.5zM1065.4 918.0H1068.0V925.1H1065.4zM1070.3 905.5H1072.9V915.4H1070.3zM1072.9 911.4H1075.3V920.0H1072.9zM1077.9 874.6H1080.8V891.3H1077.9zM1080.8 901.1H1083.8V912.0H1080.8zM1086.7 918.7H1089.6V925.7H1086.7zM1089.6 931.2H1092.6V935.5H1089.6zM1095.2 843.8H1097.5V867.3H1095.2zM1097.5 889.3H1100.1V902.8H1097.5zM1102.5 904.0H1104.7V914.3H1102.5zM1104.7 938.5H1107.6V941.2H1104.7zM1110.6 923.1H1113.2V929.2H1110.6zM1113.2 898.1H1115.7V909.7H1113.2zM1118.3 886.4H1120.9V900.5H1118.3zM1120.9 886.4H1123.1V900.5H1120.9zM1125.4 884.2H1127.8V898.8H1125.4zM1127.8 882.7H1130.3V897.6H1127.8zM1132.8 898.1H1135.3V909.7H1132.8zM1135.3 924.6H1137.8V930.3H1135.3zM1140.3 823.2H1142.9V851.2H1140.3zM1142.9 823.2H1145.1V851.2H1142.9zM1147.7 912.8H1150.3V921.1H1147.7zM1150.3 907.0H1152.5V916.6H1150.3zM1157.2 909.2H1159.8V918.3H1157.2zM1162.4 859.2H1165.0V879.3H1162.4zM1165.0 859.9H1167.5V879.9H1165.0zM1173.5 875.2H1176.5V908.7H1173.5zM1180.2 830.1H1183.1V848.5H1180.2zM1183.1 809.1H1185.3V820.5H1183.1zM1187.6 808.0H1190.1V819.1H1187.6zM1190.1 794.8H1192.7V801.4H1190.1zM1195.3 791.5H1197.8V797.0H1195.3zM1197.8 798.1H1200.0V805.8H1197.8zM1202.6 793.7H1205.2V800.0H1202.6zM1205.2 806.9H1207.4V817.6H1205.2zM1210.0 793.7H1213.3V800.0H1210.0zM1213.3 857.6H1216.2V885.2H1213.3zM1218.8 829.0H1222.1V847.0H1218.8zM1222.1 842.2H1225.0V864.6H1222.1zM1227.6 841.1H1230.2V863.2H1227.6zM1230.2 805.8H1232.4V816.1H1230.2zM1234.6 831.2H1237.1V849.9H1234.6zM1237.1 806.9H1239.7V817.6H1237.1zM1241.9 825.7H1244.1V842.6H1241.9zM1244.1 820.1H1246.7V835.2H1244.1zM1249.3 845.5H1251.5V869.0H1249.3zM1251.5 803.6H1253.3V813.2H1251.5zM1255.2 822.3H1257.7V838.2H1255.2zM1257.7 831.2H1260.3V849.9H1257.7zM1262.9 816.8H1265.4V830.8H1262.9zM1265.4 812.4H1268.0V825.0H1265.4zM1270.9 814.6H1273.5V827.9H1270.9zM1273.5 809.1H1275.7V820.5H1273.5zM1277.9 800.3H1280.1V808.8H1277.9zM1280.1 842.2H1282.3V864.6H1280.1zM1284.5 884.6H1287.1V921.2H1284.5zM1287.1 826.8H1290.1V844.1H1287.1zM1292.6 782.7H1295.2V785.3H1292.6zM1295.2 790.4H1297.8V795.6H1295.2zM1300.0 829.0H1302.5V847.0H1300.0zM1302.5 797.0H1305.1V804.4H1302.5zM1307.3 819.0H1309.3V833.8H1307.3zM1309.3 809.1H1311.4V820.5H1309.3zM1358.0 901.1H1363.0V936.9H1358.0zM1393.1 800.8H1398.8V875.3H1393.1zM1408.6 774.7H1411.6V892.3H1408.6zM1454.2 782.0H1456.7V950.3H1454.2z"/>
<path fill-opacity="0.6" d="M1318.6 856.7H1322.9V909.7H1318.6zM1353.0 828.0H1358.0V893.9H1353.0zM1416.0 774.7H1418.2V892.3H1416.0zM1448.3 774.7H1452.7V796.7H1448.3z"/>
<path fill-opacity="0.8" d="M1328.6 775.0H1332.9V839.5H1328.6zM1345.8 775.0H1350.1V871.0H1345.8zM1350.1 828.0H1353.0V950.5H1350.1zM1367.3 775.0H1373.0V851.0H1367.3zM1370.2 851.0H1373.0V889.6H1370.2zM1385.9 775.0H1390.2V865.3H1385.9z"/>
<path d="M607.2 932.6H609.8V950.6H607.2zM609.8 882.0H612.8V950.6H609.8zM612.8 945.2H616.5V950.6H612.8zM616.5 911.4H620.1V950.6H616.5zM620.1 907.0H622.7V950.6H620.1zM622.7 933.7H625.3V950.6H622.7zM625.3 901.1H627.8V950.6H625.3zM627.8 943.7H630.4V950.6H627.8zM630.4 882.2H633.0V950.6H630.4zM633.0 912.0H635.4V950.6H633.0zM635.4 870.2H638.0V950.6H635.4zM638.0 916.6H640.3V950.6H638.0zM640.3 917.7H643.3V950.6H640.3zM643.3 882.0H646.2V950.6H643.3zM646.2 921.1H648.4V950.6H646.2zM648.4 922.3H650.2V950.6H648.4zM652.8 908.0H655.8V950.6H652.8zM655.8 918.8H658.3V950.6H655.8zM658.3 933.4H660.9V950.6H658.3zM660.9 938.3H663.5V950.6H660.9zM663.5 936.0H665.8V950.6H663.5zM665.8 889.3H668.0V950.6H665.8zM668.0 863.8H670.5V950.6H668.0zM670.5 902.8H672.7V950.6H670.5zM672.7 930.5H675.1V950.6H672.7zM675.1 904.5H677.7V950.6H675.1zM677.7 925.7H680.2V950.6H677.7zM680.2 909.9H682.7V950.6H680.2zM682.7 941.8H685.2V950.6H682.7zM685.2 917.1H687.5V950.6H685.2zM687.5 937.8H690.1V950.6H687.5zM690.1 924.6H692.7V950.6H690.1zM692.7 938.3H695.3V950.6H692.7zM695.3 895.9H698.0V950.6H695.3zM698.0 932.6H700.6V950.6H698.0zM700.6 942.9H702.8V950.6H700.6zM702.8 938.5H705.0V950.6H702.8zM707.9 909.1H710.9V950.6H707.9zM710.9 929.0H713.1V950.6H710.9zM713.1 916.6H715.4V950.6H713.1zM715.4 914.8H718.0V950.6H715.4zM718.0 930.5H720.4V950.6H718.0zM720.4 925.7H722.8V950.6H720.4zM722.8 908.0H725.3V950.6H722.8zM725.3 907.0H728.1V950.6H725.3zM728.1 907.4H730.8V950.6H728.1zM1027.8 908.0H1031.0V950.6H1027.8zM1031.0 920.2H1034.5V950.6H1031.0zM1034.5 925.7H1038.2V950.6H1034.5zM1038.2 921.1H1042.2V950.6H1038.2zM1042.2 864.3H1045.9V950.6H1042.2zM1045.9 869.0H1049.2V950.6H1045.9zM1049.2 905.1H1052.2V950.6H1049.2zM1052.2 848.2H1055.1V950.6H1052.2zM1055.1 847.8H1057.7V950.6H1055.1zM1057.7 879.9H1059.9V950.6H1057.7zM1059.9 921.6H1062.5V950.6H1059.9zM1062.5 941.2H1065.4V950.6H1062.5zM1065.4 925.1H1068.0V950.6H1065.4zM1068.0 889.3H1070.3V950.6H1068.0zM1070.3 915.4H1072.9V950.6H1070.3zM1072.9 920.0H1075.3V950.6H1072.9zM1075.3 917.2H1077.9V950.6H1075.3zM1077.9 891.3H1080.8V950.6H1077.9zM1080.8 912.0H1083.8V950.6H1080.8zM1083.8 901.1H1086.7V950.6H1083.8zM1086.7 925.7H1089.6V950.6H1086.7zM1089.6 935.5H1092.6V950.6H1089.6zM1092.6 901.1H1095.2V950.6H1092.6zM1095.2 867.3H1097.5V950.6H1095.2zM1097.5 902.8H1100.1V950.6H1097.5zM1100.1 890.8H1102.5V950.6H1100.1zM1102.5 914.3H1104.7V950.6H1102.5zM1104.7 941.2H1107.6V950.6H1104.7zM1107.6 922.4H1110.6V950.6H1107.6zM1110.6 929.2H1113.2V950.6H1110.6zM1113.2 909.7H1115.7V950.6H1113.2zM1115.7 897.4H1118.3V950.6H1115.7zM1118.3 900.5H1120.9V950.6H1118.3zM1120.9 900.5H1123.1V950.6H1120.9zM1123.1 899.6H1125.4V950.6H1123.1zM1125.4 898.8H1127.8V950.6H1125.4zM1127.8 897.6H1130.3V950.6H1127.8zM1130.3 920.2H1132.8V950.6H1130.3zM1132.8 909.7H1135.3V950.6H1132.8zM1135.3 930.3H1137.8V950.6H1135.3zM1137.8 933.4H1140.3V950.6H1137.8zM1140.3 851.2H1142.9V950.6H1140.3zM1142.9 851.2H1145.1V950.6H1142.9zM1145.1 924.6H1147.7V950.6H1145.1zM1147.7 921.1H1150.3V950.6H1147.7zM1150.3 916.6H1152.5V950.6H1150.3zM1152.5 908.4H1154.7V950.6H1152.5zM1157.2 918.3H1159.8V950.6H1157.2zM1159.8 864.3H1162.4V950.6H1159.8zM1162.4 879.3H1165.0V950.6H1162.4zM1165.0 879.9H1167.5V950.6H1165.0zM1167.5 884.9H1170.2V950.6H1167.5zM1173.5 774.8H1176.5V875.2H1173.5zM1176.5 774.8H1180.2V804.4H1176.5zM1180.2 774.8H1183.1V830.1H1180.2zM1183.1 774.8H1185.3V809.1H1183.1zM1185.3 774.8H1187.6V800.0H1185.3zM1187.6 774.8H1190.1V808.0H1187.6zM1190.1 774.8H1192.7V794.8H1190.1zM1192.7 774.8H1195.3V813.2H1192.7zM1195.3 774.8H1197.8V791.5H1195.3zM1197.8 774.8H1200.0V798.1H1197.8zM1200.0 774.8H1202.6V826.4H1200.0zM1202.6 774.8H1205.2V793.7H1202.6zM1205.2 774.8H1207.4V806.9H1205.2zM1207.4 774.8H1210.0V816.1H1207.4zM1210.0 774.8H1213.3V793.7H1210.0zM1213.3 774.8H1216.2V857.6H1213.3zM1216.2 774.8H1218.8V832.3H1216.2zM1218.8 774.8H1222.1V829.0H1218.8zM1222.1 774.8H1225.0V842.2H1222.1zM1225.0 774.8H1227.6V838.2H1225.0zM1227.6 774.8H1230.2V841.1H1227.6zM1230.2 774.8H1232.4V805.8H1230.2zM1232.4 774.8H1234.6V835.2H1232.4zM1234.6 774.8H1237.1V831.2H1234.6zM1237.1 774.8H1239.7V806.9H1237.1zM1239.7 774.8H1241.9V841.1H1239.7zM1241.9 774.8H1244.1V825.7H1241.9zM1244.1 774.8H1246.7V820.1H1244.1zM1246.7 774.8H1249.3V813.2H1246.7zM1249.3 774.8H1251.5V845.5H1249.3zM1251.5 774.8H1253.3V803.6H1251.5zM1253.3 774.8H1255.2V802.9H1253.3zM1255.2 774.8H1257.7V822.3H1255.2zM1257.7 774.8H1260.3V831.2H1257.7zM1260.3 774.8H1262.9V833.8H1260.3zM1262.9 774.8H1265.4V816.8H1262.9zM1265.4 774.8H1268.0V812.4H1265.4zM1268.0 774.8H1270.9V875.7H1268.0zM1270.9 774.8H1273.5V814.6H1270.9zM1273.5 774.8H1275.7V809.1H1273.5zM1275.7 774.8H1277.9V817.6H1275.7zM1277.9 774.8H1280.1V800.3H1277.9zM1280.1 774.8H1282.3V842.2H1280.1zM1282.3 774.8H1284.5V849.9H1282.3zM1284.5 774.8H1287.1V884.6H1284.5zM1287.1 774.8H1290.1V826.8H1287.1zM1290.1 774.8H1292.6V817.6H1290.1zM1292.6 774.8H1295.2V782.7H1292.6zM1295.2 774.8H1297.8V790.4H1295.2zM1297.8 774.8H1300.0V825.0H1297.8zM1300.0 774.8H1302.5V829.0H1300.0zM1302.5 774.8H1305.1V797.0H1302.5zM1305.1 774.8H1307.3V835.2H1305.1zM1307.3 774.8H1309.3V819.0H1307.3zM1309.3 774.8H1311.4V809.1H1309.3zM1310.0 775.0H1315.0V825.2H1310.0zM1315.0 775.0H1318.6V856.7H1315.0zM1318.6 775.0H1322.9V856.7H1318.6zM1322.9 790.8H1325.8V950.5H1322.9zM1325.8 908.3H1328.6V950.5H1325.8zM1328.6 839.5H1332.9V950.5H1328.6zM1332.9 836.6H1335.8V950.5H1332.9zM1335.8 851.0H1340.8V950.5H1335.8zM1340.8 871.0H1345.8V950.5H1340.8zM1345.8 871.0H1350.1V950.5H1345.8zM1353.0 775.0H1358.0V828.0H1353.0zM1358.0 808.0H1363.0V901.1H1358.0zM1363.0 775.0H1367.3V856.7H1363.0zM1373.0 856.7H1377.3V939.8H1373.0zM1375.2 775.0H1378.8V819.4H1375.2zM1378.8 775.0H1385.9V836.6H1378.8zM1390.2 775.0H1393.1V848.1H1390.2zM1393.1 875.3H1398.8V946.9H1393.1zM1398.8 775.0H1403.1V851.0H1398.8zM1403.1 775.0H1410.0V815.1H1403.1zM1410.8 892.3H1417.4V949.6H1410.8zM1418.2 774.7H1419.9V815.8H1418.2zM1419.9 774.7H1422.6V818.8H1419.9zM1422.6 774.7H1425.5V840.8H1422.6zM1425.5 774.7H1428.5V833.5H1425.5zM1428.5 774.7H1431.4V804.1H1428.5zM1431.4 774.7H1433.6V830.5H1431.4zM1432.9 804.1H1437.3V886.4H1432.9zM1437.3 830.5H1441.4V911.4H1437.3zM1440.9 862.9H1446.1V923.1H1440.9zM1444.6 818.8H1447.6V892.3H1444.6zM1447.6 796.7H1450.5V890.8H1447.6zM1450.5 782.0H1454.9V892.3H1450.5z"/>
</g>
<g fill="none" stroke="#000" stroke-width="2.1" stroke-opacity="0.85" stroke-linejoin="round">
<path d="M191.8 1210.0L240.6 949.7L273.0 950.4L289.8 817.2L297.5 791.5L298.4 950.4L405.5 950.4L418.4 875.4L419.2 950.4L729.6 950.4"/>
<path d="M729.6 895.2L731.4 848.2L733.3 775.4L749.9 775.4L751.2 862.9L752.4 950.6"/>
<path d="M752.4 950.4L932.3 950.4L934.0 926.7L935.8 950.4L1173.2 950.4"/>
<path d="M1174.2 775.4L1407.9 775.4"/>
<path d="M1174.2 775.4L1174.2 950.4"/>
<path d="M1456.7 950.6L1471.8 950.6L1484.3 775.4L1517.4 775.4L1519.6 950.6"/>
<path d="M1519.6 950.4L1774.1 950.4L1776.6 910.7L1778.1 950.4L1879.2 950.4"/>
</g>
<g fill="#f00">
<path fill-opacity="0.5" d="M607.2 1139.0H609.8V1144.1H607.2zM612.8 1155.1H616.5V1156.7H612.8zM616.5 1111.8H620.1V1122.9H616.5zM622.7 1140.5H625.3V1145.2H622.7zM625.3 1098.6H627.8V1112.5H625.3zM630.4 1074.3H633.0V1093.6H630.4zM633.0 1112.5H635.4V1123.4H633.0zM638.0 1118.4H640.3V1128.0H638.0zM640.3 1119.9H643.3V1129.2H640.3zM646.2 1124.3H648.4V1132.6H646.2zM648.4 1125.8H650.2V1133.7H648.4zM652.8 1107.4H655.8V1119.4H652.8zM655.8 1121.3H658.3V1130.3H655.8zM660.9 1146.3H663.5V1149.8H660.9zM663.5 1143.4H665.8V1147.5H663.5zM668.0 1050.8H670.5V1075.3H668.0zM670.5 1100.8H672.7V1114.3H670.5zM675.1 1103.0H677.7V1116.0H675.1zM677.7 1130.2H680.2V1137.2H677.7zM682.7 1150.7H685.2V1153.2H682.7zM685.2 1119.1H687.5V1128.6H685.2zM690.1 1128.7H692.7V1136.0H690.1zM692.7 1146.3H695.3V1149.8H692.7zM698.0 1141.0H700.6V1146.1H698.0zM700.6 1155.7H702.8V1157.9H700.6zM707.9 1112.4H710.9V1124.1H707.9zM713.1 1121.9H715.4V1131.5H713.1zM715.4 1119.7H718.0V1129.8H715.4zM720.4 1133.7H722.8V1140.7H720.4zM722.8 1110.9H725.3V1122.9H722.8zM728.1 1110.2H730.8V1122.4H728.1zM1027.8 1137.6H1031.0V1149.6H1027.8zM1034.5 1160.4H1038.2V1167.4H1034.5zM1038.2 1154.5H1042.2V1162.8H1038.2zM1045.9 1087.7H1049.2V1110.7H1045.9zM1049.2 1133.9H1052.2V1146.8H1049.2zM1055.1 1060.5H1057.7V1089.5H1055.1zM1057.7 1101.6H1059.9V1121.6H1057.7zM1062.5 1180.2H1065.4V1182.9H1062.5zM1065.4 1159.7H1068.0V1166.8H1065.4zM1070.3 1147.2H1072.9V1157.1H1070.3zM1072.9 1153.1H1075.3V1161.7H1072.9zM1077.9 1116.3H1080.8V1133.0H1077.9zM1080.8 1142.8H1083.8V1153.7H1080.8zM1086.7 1160.4H1089.6V1167.4H1086.7zM1089.6 1172.9H1092.6V1177.2H1089.6zM1095.2 1085.5H1097.5V1109.0H1095.2zM1097.5 1131.0H1100.1V1144.5H1097.5zM1102.5 1145.7H1104.7V1156.0H1102.5zM1104.7 1180.2H1107.6V1182.9H1104.7zM1110.6 1164.8H1113.2V1170.9H1110.6zM1113.2 1139.8H1115.7V1151.4H1113.2zM1118.3 1128.1H1120.9V1142.2H1118.3zM1120.9 1128.1H1123.1V1142.2H1120.9zM1125.4 1125.9H1127.8V1140.5H1125.4zM1127.8 1124.4H1130.3V1139.3H1127.8zM1132.8 1139.8H1135.3V1151.4H1132.8zM1135.3 1166.3H1137.8V1172.0H1135.3zM1140.3 1064.9H1142.9V1092.9H1140.3zM1142.9 1064.9H1145.1V1092.9H1142.9zM1147.7 1154.5H1150.3V1162.8H1147.7zM1150.3 1148.6H1152.5V1158.2H1150.3zM1157.2 1150.8H1159.8V1160.0H1157.2zM1162.4 1100.9H1165.0V1121.0H1162.4zM1165.0 1101.6H1167.5V1121.6H1165.0zM1173.5 1116.9H1176.5V1150.4H1173.5zM1180.2 1071.8H1183.1V1090.2H1180.2zM1183.1 1050.8H1185.3V1062.2H1183.1zM1187.6 1049.7H1190.1V1060.8H1187.6zM1190.1 1036.5H1192.7V1043.1H1190.1zM1195.3 1033.2H1197.8V1038.7H1195.3zM1197.8 1039.8H1200.0V1047.5H1197.8zM1202.6 1035.4H1205.2V1041.7H1202.6zM1205.2 1048.6H1207.4V1059.3H1205.2zM1210.0 1035.4H1213.3V1041.7H1210.0zM1213.3 1099.3H1216.2V1126.9H1213.3zM1218.8 1070.6H1222.1V1088.7H1218.8zM1222.1 1083.9H1225.0V1106.3H1222.1zM1227.6 1082.8H1230.2V1104.9H1227.6zM1230.2 1047.5H1232.4V1057.8H1230.2zM1234.6 1072.9H1237.1V1091.6H1234.6zM1237.1 1048.6H1239.7V1059.3H1237.1zM1241.9 1067.3H1244.1V1084.3H1241.9zM1244.1 1061.8H1246.7V1076.9H1244.1zM1249.3 1087.2H1251.5V1110.7H1249.3zM1251.5 1045.3H1253.3V1054.9H1251.5zM1255.2 1064.0H1257.7V1079.9H1255.2zM1257.7 1072.9H1260.3V1091.6H1257.7zM1262.9 1058.5H1265.4V1072.5H1262.9zM1265.4 1054.1H1268.0V1066.6H1265.4zM1270.9 1056.3H1273.5V1069.6H1270.9zM1273.5 1050.8H1275.7V1062.2H1273.5zM1277.9 1042.0H1280.1V1050.5H1277.9zM1280.1 1083.9H1282.3V1106.3H1280.1zM1284.5 1126.3H1287.1V1162.9H1284.5zM1287.1 1068.4H1290.1V1085.7H1287.1zM1292.6 1024.4H1295.2V1027.0H1292.6zM1295.2 1032.1H1297.8V1037.3H1295.2zM1300.0 1070.6H1302.5V1088.7H1300.0zM1302.5 1038.7H1305.1V1046.1H1302.5zM1307.3 1060.7H1309.3V1075.5H1307.3zM1309.3 1050.8H1311.4V1062.2H1309.3zM1358.0 1142.8H1363.0V1178.6H1358.0zM1393.1 1042.5H1398.8V1117.0H1393.1zM1408.6 1016.4H1411.6V1133.9H1408.6zM1454.2 1023.7H1456.7V1192.0H1454.2z"/>
<path fill-opacity="0.6" d="M1318.6 1098.4H1322.9V1151.4H1318.6zM1353.0 1069.7H1358.0V1135.6H1353.0zM1416.0 1016.4H1418.2V1133.9H1416.0zM1448.3 1016.4H1452.7V1038.4H1448.3z"/>
<path fill-opacity="0.8" d="M1328.6 1016.7H1332.9V1081.2H1328.6zM1345.8 1016.7H1350.1V1112.7H1345.8zM1350.1 1069.7H1353.0V1192.2H1350.1zM1367.3 1016.7H1373.0V1092.7H1367.3zM1370.2 1092.7H1373.0V1131.3H1370.2zM1385.9 1016.7H1390.2V1107.0H1385.9z"/>
<path d="M607.2 1144.1H609.8V1162.1H607.2zM609.8 1093.4H612.8V1162.1H609.8zM612.8 1156.7H616.5V1162.1H612.8zM616.5 1122.9H620.1V1162.1H616.5zM620.1 1118.4H622.7V1162.1H620.1zM622.7 1145.2H625.3V1162.1H622.7zM625.3 1112.5H627.8V1162.1H625.3zM627.8 1155.1H630.4V1162.1H627.8zM630.4 1093.6H633.0V1162.1H630.4zM633.0 1123.4H635.4V1162.1H633.0zM635.4 1081.7H638.0V1162.1H635.4zM638.0 1128.0H640.3V1162.1H638.0zM640.3 1129.2H643.3V1162.1H640.3zM643.3 1093.4H646.2V1162.1H643.3zM646.2 1132.6H648.4V1162.1H646.2zM648.4 1133.7H650.2V1162.1H648.4zM652.8 1119.4H655.8V1162.1H652.8zM655.8 1130.3H658.3V1162.1H655.8zM658.3 1144.9H660.9V1162.1H658.3zM660.9 1149.8H663.5V1162.1H660.9zM663.5 1147.5H665.8V1162.1H663.5zM665.8 1100.8H668.0V1162.1H665.8zM668.0 1075.3H670.5V1162.1H668.0zM670.5 1114.3H672.7V1162.1H670.5zM672.7 1141.9H675.1V1162.1H672.7zM675.1 1116.0H677.7V1162.1H675.1zM677.7 1137.2H680.2V1162.1H677.7zM680.2 1121.3H682.7V1162.1H680.2zM682.7 1153.2H685.2V1162.1H682.7zM685.2 1128.6H687.5V1162.1H685.2zM687.5 1149.3H690.1V1162.1H687.5zM690.1 1136.0H692.7V1162.1H690.1zM692.7 1149.8H695.3V1162.1H692.7zM695.3 1107.4H698.0V1162.1H695.3zM698.0 1146.1H700.6V1164.1H698.0zM700.6 1157.9H702.8V1165.6H700.6zM702.8 1153.5H705.0V1165.6H702.8zM707.9 1124.1H710.9V1165.6H707.9zM710.9 1144.0H713.1V1165.6H710.9zM713.1 1131.5H715.4V1165.6H713.1zM715.4 1129.8H718.0V1165.6H715.4zM718.0 1145.4H720.4V1165.6H718.0zM720.4 1140.7H722.8V1165.6H720.4zM722.8 1122.9H725.3V1165.6H722.8zM725.3 1121.9H728.1V1165.6H725.3zM728.1 1122.4H730.8V1165.6H728.1zM1027.8 1149.6H1031.0V1192.3H1027.8zM1031.0 1161.9H1034.5V1192.3H1031.0zM1034.5 1167.4H1038.2V1192.3H1034.5zM1038.2 1162.8H1042.2V1192.3H1038.2zM1042.2 1106.0H1045.9V1192.3H1042.2zM1045.9 1110.7H1049.2V1192.3H1045.9zM1049.2 1146.8H1052.2V1192.3H1049.2zM1052.2 1089.9H1055.1V1192.3H1052.2zM1055.1 1089.5H1057.7V1192.3H1055.1zM1057.7 1121.6H1059.9V1192.3H1057.7zM1059.9 1163.3H1062.5V1192.3H1059.9zM1062.5 1182.9H1065.4V1192.3H1062.5zM1065.4 1166.8H1068.0V1192.3H1065.4zM1068.0 1131.0H1070.3V1192.3H1068.0zM1070.3 1157.1H1072.9V1192.3H1070.3zM1072.9 1161.7H1075.3V1192.3H1072.9zM1075.3 1158.9H1077.9V1192.3H1075.3zM1077.9 1133.0H1080.8V1192.3H1077.9zM1080.8 1153.7H1083.8V1192.3H1080.8zM1083.8 1142.8H1086.7V1192.3H1083.8zM1086.7 1167.4H1089.6V1192.3H1086.7zM1089.6 1177.2H1092.6V1192.3H1089.6zM1092.6 1142.8H1095.2V1192.3H1092.6zM1095.2 1109.0H1097.5V1192.3H1095.2zM1097.5 1144.5H1100.1V1192.3H1097.5zM1100.1 1132.5H1102.5V1192.3H1100.1zM1102.5 1156.0H1104.7V1192.3H1102.5zM1104.7 1182.9H1107.6V1192.3H1104.7zM1107.6 1164.1H1110.6V1192.3H1107.6zM1110.6 1170.9H1113.2V1192.3H1110.6zM1113.2 1151.4H1115.7V1192.3H1113.2zM1115.7 1139.1H1118.3V1192.3H1115.7zM1118.3 1142.2H1120.9V1192.3H1118.3zM1120.9 1142.2H1123.1V1192.3H1120.9zM1123.1 1141.3H1125.4V1192.3H1123.1zM1125.4 1140.5H1127.8V1192.3H1125.4zM1127.8 1139.3H1130.3V1192.3H1127.8zM1130.3 1161.9H1132.8V1192.3H1130.3zM1132.8 1151.4H1135.3V1192.3H1132.8zM1135.3 1172.0H1137.8V1192.3H1135.3zM1137.8 1175.1H1140.3V1192.3H1137.8zM1140.3 1092.9H1142.9V1192.3H1140.3zM1142.9 1092.9H1145.1V1192.3H1142.9zM1145.1 1166.3H1147.7V1192.3H1145.1zM1147.7 1162.8H1150.3V1192.3H1147.7zM1150.3 1158.2H1152.5V1192.3H1150.3zM1152.5 1150.1H1154.7V1192.3H1152.5zM1157.2 1160.0H1159.8V1192.3H1157.2zM1159.8 1106.0H1162.4V1192.3H1159.8zM1162.4 1121.0H1165.0V1192.3H1162.4zM1165.0 1121.6H1167.5V1192.3H1165.0zM1167.5 1126.6H1170.2V1192.3H1167.5zM1173.5 1016.5H1176.5V1116.9H1173.5zM1176.5 1016.5H1180.2V1046.1H1176.5zM1180.2 1016.5H1183.1V1071.8H1180.2zM1183.1 1016.5H1185.3V1050.8H1183.1zM1185.3 1016.5H1187.6V1041.7H1185.3zM1187.6 1016.5H1190.1V1049.7H1187.6zM1190.1 1016.5H1192.7V1036.5H1190.1zM1192.7 1016.5H1195.3V1054.9H1192.7zM1195.3 1016.5H1197.8V1033.2H1195.3zM1197.8 1016.5H1200.0V1039.8H1197.8zM1200.0 1016.5H1202.6V1068.1H1200.0zM1202.6 1016.5H1205.2V1035.4H1202.6zM1205.2 1016.5H1207.4V1048.6H1205.2zM1207.4 1016.5H1210.0V1057.8H1207.4zM1210.0 1016.5H1213.3V1035.4H1210.0zM1213.3 1016.5H1216.2V1099.3H1213.3zM1216.2 1016.5H1218.8V1074.0H1216.2zM1218.8 1016.5H1222.1V1070.6H1218.8zM1222.1 1016.5H1225.0V1083.9H1222.1zM1225.0 1016.5H1227.6V1079.9H1225.0zM1227.6 1016.5H1230.2V1082.8H1227.6zM1230.2 1016.5H1232.4V1047.5H1230.2zM1232.4 1016.5H1234.6V1076.9H1232.4zM1234.6 1016.5H1237.1V1072.9H1234.6zM1237.1 1016.5H1239.7V1048.6H1237.1zM1239.7 1016.5H1241.9V1082.8H1239.7zM1241.9 1016.5H1244.1V1067.3H1241.9zM1244.1 1016.5H1246.7V1061.8H1244.1zM1246.7 1016.5H1249.3V1054.9H1246.7zM1249.3 1016.5H1251.5V1087.2H1249.3zM1251.5 1016.5H1253.3V1045.3H1251.5zM1253.3 1016.5H1255.2V1044.6H1253.3zM1255.2 1016.5H1257.7V1064.0H1255.2zM1257.7 1016.5H1260.3V1072.9H1257.7zM1260.3 1016.5H1262.9V1075.5H1260.3zM1262.9 1016.5H1265.4V1058.5H1262.9zM1265.4 1016.5H1268.0V1054.1H1265.4zM1268.0 1016.5H1270.9V1117.3H1268.0zM1270.9 1016.5H1273.5V1056.3H1270.9zM1273.5 1016.5H1275.7V1050.8H1273.5zM1275.7 1016.5H1277.9V1059.3H1275.7zM1277.9 1016.5H1280.1V1042.0H1277.9zM1280.1 1016.5H1282.3V1083.9H1280.1zM1282.3 1016.5H1284.5V1091.6H1282.3zM1284.5 1016.5H1287.1V1126.3H1284.5zM1287.1 1016.5H1290.1V1068.4H1287.1zM1290.1 1016.5H1292.6V1059.3H1290.1zM1292.6 1016.5H1295.2V1024.4H1292.6zM1295.2 1016.5H1297.8V1032.1H1295.2zM1297.8 1016.5H1300.0V1066.6H1297.8zM1300.0 1016.5H1302.5V1070.6H1300.0zM1302.5 1016.5H1305.1V1038.7H1302.5zM1305.1 1016.5H1307.3V1076.9H1305.1zM1307.3 1016.5H1309.3V1060.7H1307.3zM1309.3 1016.5H1311.4V1050.8H1309.3zM1310.0 1016.7H1315.0V1066.9H1310.0zM1315.0 1016.7H1318.6V1098.4H1315.0zM1318.6 1016.7H1322.9V1098.4H1318.6zM1322.9 1032.5H1325.8V1192.2H1322.9zM1325.8 1150.0H1328.6V1192.2H1325.8zM1328.6 1081.2H1332.9V1192.2H1328.6zM1332.9 1078.3H1335.8V1192.2H1332.9zM1335.8 1092.7H1340.8V1192.2H1335.8zM1340.8 1112.7H1345.8V1192.2H1340.8zM1345.8 1112.7H1350.1V1192.2H1345.8zM1353.0 1016.7H1358.0V1069.7H1353.0zM1358.0 1049.7H1363.0V1142.8H1358.0zM1363.0 1016.7H1367.3V1098.4H1363.0zM1373.0 1098.4H1377.3V1181.5H1373.0zM1375.2 1016.7H1378.8V1061.1H1375.2zM1378.8 1016.7H1385.9V1078.3H1378.8zM1390.2 1016.7H1393.1V1089.8H1390.2zM1393.1 1117.0H1398.8V1188.6H1393.1zM1398.8 1016.7H1403.1V1092.7H1398.8zM1403.1 1016.7H1410.0V1056.8H1403.1zM1410.8 1133.9H1417.4V1191.3H1410.8zM1418.2 1016.4H1419.9V1057.5H1418.2zM1419.9 1016.4H1422.6V1060.5H1419.9zM1422.6 1016.4H1425.5V1082.5H1422.6zM1425.5 1016.4H1428.5V1075.2H1425.5zM1428.5 1016.4H1431.4V1045.8H1428.5zM1431.4 1016.4H1433.6V1072.2H1431.4zM1432.9 1045.8H1437.3V1128.1H1432.9zM1437.3 1072.2H1441.4V1153.1H1437.3zM1440.9 1104.6H1446.1V1164.8H1440.9zM1444.6 1060.5H1447.6V1133.9H1444.6zM1447.6 1038.4H1450.5V1132.5H1447.6zM1450.5 1023.7H1454.9V1133.9H1450.5z"/>
</g>
<g fill="none" stroke="#f00" stroke-width="2.1" stroke-opacity="0.85" stroke-linejoin="round">
<path d="M191.8 1210.0L240.6 949.7L250.0 974.0L256.8 989.2L267.0 992.6L273.0 996.0L289.8 867.8L297.5 838.8L298.4 996.6L309.2 996.6L316.0 1022.0L339.7 1022.0L344.7 1031.5L354.7 1062.9L405.5 1062.9L418.4 988.1L419.2 1062.4L432.7 1062.4L454.4 1093.0L467.9 1093.0L487.8 1137.1L496.3 1138.8L504.8 1146.6L526.8 1146.6L535.2 1161.8L606.4 1161.8L697.0 1161.8L700.9 1165.4L729.6 1165.4"/>
<path d="M729.6 1110.2L731.4 1063.2L733.3 990.4L749.9 990.4L751.2 1077.9L752.4 1165.6"/>
<path d="M752.4 1165.4L774.8 1165.4L780.0 1176.8L791.7 1192.1L932.3 1192.1L934.0 1169.3L935.8 1192.1L1173.2 1192.1"/>
<path d="M1174.2 1017.1L1407.9 1017.1"/>
<path d="M1174.2 1017.1L1174.2 1192.1"/>
<path d="M1456.7 1192.3L1471.8 1192.3L1484.3 1017.1L1517.4 1017.1L1519.6 1192.3"/>
<path d="M1519.6 1192.1L1728.0 1192.1L1734.5 1200.8L1764.0 1200.8L1776.6 1207.3L1777.3 1172.0L1778.5 1210.5L1879.2 1210.5"/>
</g>
</g>
<text class="tk" transform="translate(338.29,610.80) scale(1.0551,1)" font-size="38">1000</text>
<text class="tk" transform="translate(338.29,1278.60) scale(1.0551,1)" font-size="38">1000</text>
<text class="tk" transform="translate(532.16,610.80) scale(1.0724,1)" font-size="38">2000</text>
<text class="tk" transform="translate(529.56,1278.60) scale(1.0724,1)" font-size="38">2000</text>
<text class="tk" transform="translate(725.28,610.80) scale(1.0674,1)" font-size="38">3000</text>
<text class="tk" transform="translate(722.68,1278.60) scale(1.0674,1)" font-size="38">3000</text>
<text class="tk" transform="translate(918.10,610.80) scale(1.0575,1)" font-size="38">4000</text>
<text class="tk" transform="translate(918.10,1278.60) scale(1.0575,1)" font-size="38">4000</text>
<text class="tk" transform="translate(1110.79,610.80) scale(1.0576,1)" font-size="38">5000</text>
<text class="tk" transform="translate(1110.79,1278.60) scale(1.0576,1)" font-size="38">5000</text>
<text class="tk" transform="translate(1304.35,610.80) scale(1.0786,1)" font-size="38">6000</text>
<text class="tk" transform="translate(1301.65,1278.60) scale(1.0798,1)" font-size="38">6000</text>
<text class="tk" transform="translate(1497.58,610.80) scale(1.0638,1)" font-size="38">7000</text>
<text class="tk" transform="translate(1494.98,1278.60) scale(1.0625,1)" font-size="38">7000</text>
<text class="tk" transform="translate(1690.49,610.80) scale(1.0612,1)" font-size="38">8000</text>
<text class="tk" transform="translate(1687.79,1278.60) scale(1.0612,1)" font-size="38">8000</text>
<text class="tk" transform="translate(152.65,573.60) scale(1.0197,1)" font-size="38">0</text>
<text class="tk" transform="translate(106.98,486.30) scale(1.0626,1)" font-size="38">200</text>
<text class="tk" transform="translate(108.21,400.10) scale(1.0428,1)" font-size="38">400</text>
<text class="tk" transform="translate(106.98,311.40) scale(1.0626,1)" font-size="38">600</text>
<text class="tk" transform="translate(107.39,226.10) scale(1.0559,1)" font-size="38">800</text>
<text class="tk" transform="translate(86.02,136.70) scale(1.0476,1)" font-size="38">1000</text>
<text class="tk" transform="translate(150.74,1241.70) scale(1.1383,1)" font-size="38">1</text>
<text class="tk" transform="translate(152.18,1148.10) scale(1.0641,1)" font-size="38">2</text>
<text class="tk" transform="translate(152.62,1049.20) scale(1.0414,1)" font-size="38">3</text>
<text class="tk" transform="translate(153.47,954.20) scale(0.9598,1)" font-size="38">4</text>
<text class="tk" transform="translate(152.62,856.70) scale(1.0414,1)" font-size="38">5</text>
<text class="tk" transform="translate(152.18,761.70) scale(1.0641,1)" font-size="38">6</text>
<text class="tt" transform="translate(608.42,57.80) scale(1.0825,1)" font-size="44">Total Output of Hydro when V</text>
<text class="tt" transform="translate(1280.23,36.60) scale(1.2743,1)" font-size="31">ref</text>
<text class="tt" transform="translate(1330.60,57.80) scale(1.0787,1)" font-size="44">=60 %</text>
<text class="tt" transform="translate(511.87,727.80) scale(1.0816,1)" font-size="44">Remaining Water in Reservoir when V</text>
<text class="tt" transform="translate(1369.79,706.60) scale(1.2957,1)" font-size="31">ref</text>
<text class="tt" transform="translate(1420.89,727.80) scale(1.0828,1)" font-size="44">=60 %</text>
<text class="tt" transform="translate(973.13,1334.30) scale(1.0882,1)" font-size="43">time t</text>
<text class="tt" transform="translate(62.80,352.65) rotate(-90) scale(0.9917,1.07)" font-size="44">kW</text>
<text class="tt" transform="translate(130.20,1015.64) rotate(-90) scale(0.9868,1)" font-size="44">m</text>
<text class="tt" transform="translate(107.60,976.22) rotate(-90) scale(0.8000,1)" font-size="39">3</text>
<text class="tk" transform="translate(192.98,741.80) scale(1.0795,1)" font-size="40" style="fill:#7a7a7a">×</text>
<text class="tk" transform="translate(223.24,737.00) scale(0.9999,1)" font-size="39.5">10</text>
<text class="tk" transform="translate(267.43,718.20) scale(1.1528,1)" font-size="27.5">5</text>
</svg>
</body></html>
